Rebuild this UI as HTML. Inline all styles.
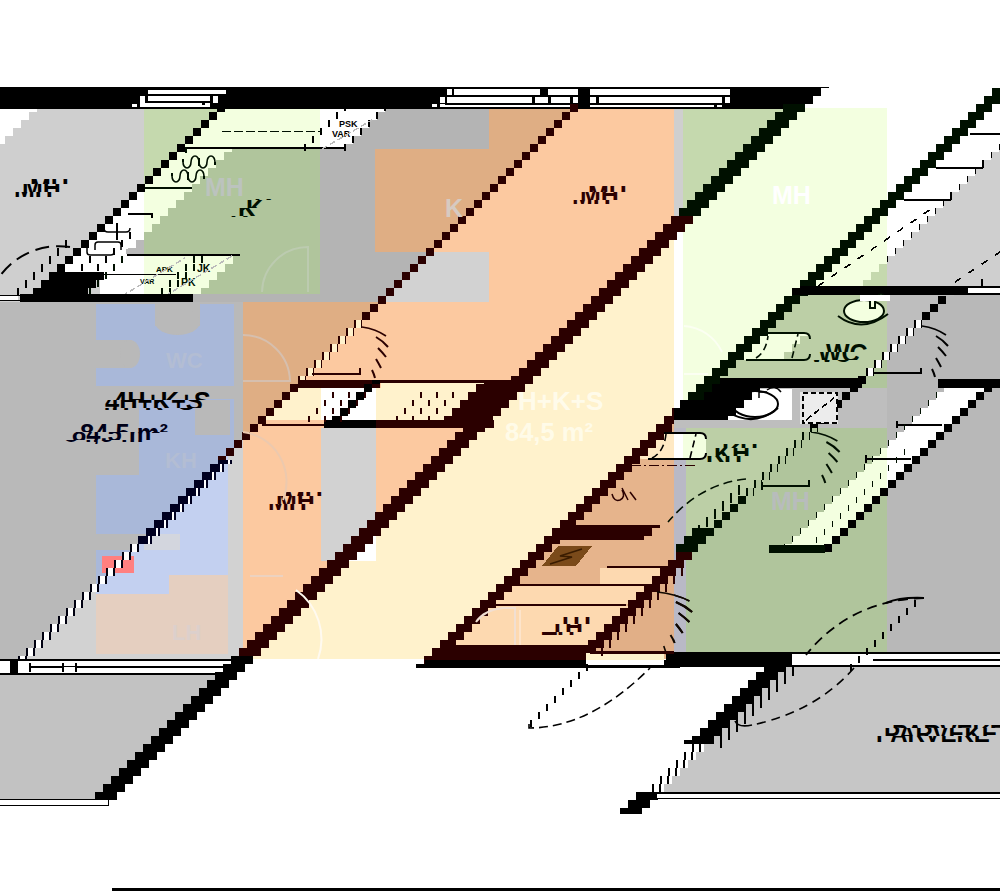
<!DOCTYPE html>
<html><head><meta charset="utf-8"><title>Pohjapiirros 4H+K+S 84,5 m2</title>
<style>
html,body{margin:0;padding:0;background:#fff;}
body{width:1000px;height:891px;overflow:hidden;}
svg{display:block;font-family:"Liberation Sans",sans-serif;}
</style></head><body>
<svg width="1000" height="891" viewBox="0 0 1000 891" shape-rendering="crispEdges">
<rect x="0" y="108" width="144" height="194" fill="#cfcfcf"/>
<rect x="144" y="108" width="176" height="194" fill="#c5d9ae"/>
<rect x="0" y="108" width="37" height="4" fill="#fff"/>
<rect x="0" y="112" width="29" height="8" fill="#fff"/>
<rect x="0" y="120" width="21" height="8" fill="#fff"/>
<rect x="0" y="128" width="13" height="8" fill="#fff"/>
<rect x="0" y="136" width="5" height="8" fill="#fff"/>
<rect x="137" y="192" width="7" height="8" fill="#fff"/>
<rect x="129" y="200" width="15" height="8" fill="#fff"/>
<rect x="121" y="208" width="23" height="8" fill="#fff"/>
<rect x="113" y="216" width="31" height="8" fill="#fff"/>
<rect x="105" y="224" width="39" height="8" fill="#fff"/>
<rect x="97" y="232" width="47" height="8" fill="#fff"/>
<rect x="89" y="240" width="47" height="8" fill="#fff"/>
<rect x="81" y="248" width="47" height="8" fill="#fff"/>
<rect x="73" y="256" width="47" height="8" fill="#fff"/>
<rect x="65" y="264" width="47" height="8" fill="#fff"/>
<rect x="57" y="272" width="47" height="8" fill="#fff"/>
<rect x="49" y="280" width="47" height="8" fill="#fff"/>
<rect x="41" y="288" width="47" height="8" fill="#fff"/>
<rect x="33" y="296" width="47" height="6" fill="#fff"/>
<rect x="225" y="108" width="47" height="4" fill="#f3ffe0"/>
<rect x="217" y="112" width="47" height="8" fill="#f3ffe0"/>
<rect x="209" y="120" width="47" height="8" fill="#f3ffe0"/>
<rect x="201" y="128" width="47" height="8" fill="#f3ffe0"/>
<rect x="193" y="136" width="47" height="8" fill="#f3ffe0"/>
<rect x="185" y="144" width="47" height="8" fill="#f3ffe0"/>
<rect x="177" y="152" width="47" height="8" fill="#f3ffe0"/>
<rect x="169" y="160" width="47" height="8" fill="#f3ffe0"/>
<rect x="161" y="168" width="47" height="8" fill="#f3ffe0"/>
<rect x="153" y="176" width="47" height="8" fill="#f3ffe0"/>
<rect x="145" y="184" width="47" height="8" fill="#f3ffe0"/>
<rect x="144" y="192" width="40" height="8" fill="#f3ffe0"/>
<rect x="144" y="200" width="32" height="8" fill="#f3ffe0"/>
<rect x="144" y="208" width="24" height="8" fill="#f3ffe0"/>
<rect x="144" y="216" width="16" height="8" fill="#f3ffe0"/>
<rect x="144" y="224" width="8" height="8" fill="#f3ffe0"/>
<rect x="136" y="240" width="8" height="8" fill="#b9b9b9"/>
<rect x="128" y="248" width="16" height="8" fill="#b9b9b9"/>
<rect x="272" y="108" width="48" height="4" fill="#b0c59c"/>
<rect x="264" y="112" width="56" height="8" fill="#b0c59c"/>
<rect x="256" y="120" width="64" height="8" fill="#b0c59c"/>
<rect x="248" y="128" width="72" height="8" fill="#b0c59c"/>
<rect x="240" y="136" width="80" height="8" fill="#b0c59c"/>
<rect x="232" y="144" width="88" height="8" fill="#b0c59c"/>
<rect x="224" y="152" width="96" height="8" fill="#b0c59c"/>
<rect x="216" y="160" width="104" height="8" fill="#b0c59c"/>
<rect x="208" y="168" width="112" height="8" fill="#b0c59c"/>
<rect x="200" y="176" width="120" height="8" fill="#b0c59c"/>
<rect x="192" y="184" width="128" height="8" fill="#b0c59c"/>
<rect x="184" y="192" width="136" height="8" fill="#b0c59c"/>
<rect x="176" y="200" width="144" height="8" fill="#b0c59c"/>
<rect x="168" y="208" width="152" height="8" fill="#b0c59c"/>
<rect x="160" y="216" width="160" height="8" fill="#b0c59c"/>
<rect x="152" y="224" width="168" height="8" fill="#b0c59c"/>
<rect x="144" y="232" width="176" height="8" fill="#b0c59c"/>
<rect x="144" y="240" width="176" height="8" fill="#b0c59c"/>
<rect x="144" y="248" width="176" height="8" fill="#b0c59c"/>
<rect x="144" y="256" width="176" height="8" fill="#b0c59c"/>
<rect x="144" y="264" width="176" height="8" fill="#b0c59c"/>
<rect x="144" y="272" width="176" height="8" fill="#b0c59c"/>
<rect x="144" y="280" width="176" height="8" fill="#b0c59c"/>
<rect x="144" y="288" width="176" height="8" fill="#b0c59c"/>
<rect x="144" y="296" width="176" height="6" fill="#b0c59c"/>
<rect x="225" y="108" width="95" height="4" fill="#f3ffe0"/>
<rect x="217" y="112" width="103" height="8" fill="#f3ffe0"/>
<rect x="209" y="120" width="111" height="8" fill="#f3ffe0"/>
<rect x="201" y="128" width="119" height="8" fill="#f3ffe0"/>
<rect x="193" y="136" width="127" height="8" fill="#f3ffe0"/>
<rect x="185" y="144" width="135" height="5" fill="#f3ffe0"/>
<rect x="144" y="256" width="89" height="8" fill="#f3ffe0"/>
<rect x="144" y="264" width="81" height="8" fill="#f3ffe0"/>
<rect x="144" y="272" width="73" height="8" fill="#f3ffe0"/>
<rect x="144" y="280" width="65" height="8" fill="#f3ffe0"/>
<rect x="144" y="288" width="57" height="6" fill="#f3ffe0"/>
<rect x="100" y="256" width="44" height="8" fill="#fff"/>
<rect x="100" y="264" width="44" height="8" fill="#fff"/>
<rect x="100" y="272" width="44" height="8" fill="#fff"/>
<rect x="100" y="280" width="44" height="8" fill="#fff"/>
<rect x="100" y="288" width="44" height="6" fill="#fff"/>
<rect x="320" y="108" width="169" height="41" fill="#b4b4b4"/>
<rect x="320" y="149" width="55" height="153" fill="#b4b4b4"/>
<rect x="375" y="252" width="114" height="50" fill="#b4b4b4"/>
<rect x="320" y="108" width="65" height="4" fill="#fff"/>
<rect x="320" y="112" width="57" height="8" fill="#fff"/>
<rect x="320" y="120" width="49" height="8" fill="#fff"/>
<rect x="320" y="128" width="41" height="8" fill="#fff"/>
<rect x="320" y="136" width="33" height="8" fill="#fff"/>
<rect x="320" y="144" width="25" height="5" fill="#fff"/>
<rect x="375" y="149" width="114" height="103" fill="#dfae84"/>
<rect x="489" y="108" width="185" height="194" fill="#dfae84"/>
<rect x="243" y="302" width="431" height="357" fill="#dfae84"/>
<rect x="578" y="108" width="96" height="4" fill="#fcc9a0"/>
<rect x="570" y="112" width="104" height="8" fill="#fcc9a0"/>
<rect x="562" y="120" width="112" height="8" fill="#fcc9a0"/>
<rect x="554" y="128" width="120" height="8" fill="#fcc9a0"/>
<rect x="546" y="136" width="128" height="8" fill="#fcc9a0"/>
<rect x="538" y="144" width="136" height="8" fill="#fcc9a0"/>
<rect x="530" y="152" width="144" height="8" fill="#fcc9a0"/>
<rect x="522" y="160" width="152" height="8" fill="#fcc9a0"/>
<rect x="514" y="168" width="160" height="8" fill="#fcc9a0"/>
<rect x="506" y="176" width="168" height="8" fill="#fcc9a0"/>
<rect x="498" y="184" width="176" height="8" fill="#fcc9a0"/>
<rect x="490" y="192" width="184" height="8" fill="#fcc9a0"/>
<rect x="489" y="200" width="185" height="8" fill="#fcc9a0"/>
<rect x="489" y="208" width="185" height="8" fill="#fcc9a0"/>
<rect x="489" y="216" width="185" height="8" fill="#fcc9a0"/>
<rect x="489" y="224" width="185" height="8" fill="#fcc9a0"/>
<rect x="489" y="232" width="185" height="8" fill="#fcc9a0"/>
<rect x="489" y="240" width="185" height="8" fill="#fcc9a0"/>
<rect x="489" y="248" width="185" height="8" fill="#fcc9a0"/>
<rect x="489" y="256" width="185" height="8" fill="#fcc9a0"/>
<rect x="489" y="264" width="185" height="8" fill="#fcc9a0"/>
<rect x="489" y="272" width="185" height="8" fill="#fcc9a0"/>
<rect x="489" y="280" width="185" height="8" fill="#fcc9a0"/>
<rect x="489" y="288" width="185" height="8" fill="#fcc9a0"/>
<rect x="489" y="296" width="185" height="6" fill="#fcc9a0"/>
<rect x="386" y="302" width="288" height="2" fill="#fcc9a0"/>
<rect x="378" y="304" width="296" height="8" fill="#fcc9a0"/>
<rect x="370" y="312" width="304" height="8" fill="#fcc9a0"/>
<rect x="362" y="320" width="312" height="8" fill="#fcc9a0"/>
<rect x="354" y="328" width="320" height="8" fill="#fcc9a0"/>
<rect x="346" y="336" width="328" height="8" fill="#fcc9a0"/>
<rect x="338" y="344" width="336" height="8" fill="#fcc9a0"/>
<rect x="330" y="352" width="344" height="8" fill="#fcc9a0"/>
<rect x="322" y="360" width="352" height="8" fill="#fcc9a0"/>
<rect x="314" y="368" width="360" height="8" fill="#fcc9a0"/>
<rect x="306" y="376" width="368" height="8" fill="#fcc9a0"/>
<rect x="298" y="384" width="376" height="8" fill="#fcc9a0"/>
<rect x="290" y="392" width="384" height="8" fill="#fcc9a0"/>
<rect x="282" y="400" width="392" height="8" fill="#fcc9a0"/>
<rect x="274" y="408" width="400" height="8" fill="#fcc9a0"/>
<rect x="266" y="416" width="408" height="8" fill="#fcc9a0"/>
<rect x="258" y="424" width="416" height="8" fill="#fcc9a0"/>
<rect x="250" y="432" width="424" height="8" fill="#fcc9a0"/>
<rect x="243" y="440" width="431" height="8" fill="#fcc9a0"/>
<rect x="243" y="448" width="431" height="8" fill="#fcc9a0"/>
<rect x="243" y="456" width="431" height="8" fill="#fcc9a0"/>
<rect x="243" y="464" width="431" height="8" fill="#fcc9a0"/>
<rect x="243" y="472" width="431" height="8" fill="#fcc9a0"/>
<rect x="243" y="480" width="431" height="8" fill="#fcc9a0"/>
<rect x="243" y="488" width="431" height="8" fill="#fcc9a0"/>
<rect x="243" y="496" width="431" height="8" fill="#fcc9a0"/>
<rect x="243" y="504" width="431" height="8" fill="#fcc9a0"/>
<rect x="243" y="512" width="431" height="8" fill="#fcc9a0"/>
<rect x="243" y="520" width="431" height="8" fill="#fcc9a0"/>
<rect x="243" y="528" width="431" height="8" fill="#fcc9a0"/>
<rect x="243" y="536" width="431" height="8" fill="#fcc9a0"/>
<rect x="243" y="544" width="431" height="8" fill="#fcc9a0"/>
<rect x="243" y="552" width="431" height="8" fill="#fcc9a0"/>
<rect x="243" y="560" width="431" height="8" fill="#fcc9a0"/>
<rect x="243" y="568" width="431" height="8" fill="#fcc9a0"/>
<rect x="243" y="576" width="431" height="8" fill="#fcc9a0"/>
<rect x="243" y="584" width="431" height="8" fill="#fcc9a0"/>
<rect x="243" y="592" width="431" height="8" fill="#fcc9a0"/>
<rect x="243" y="600" width="431" height="8" fill="#fcc9a0"/>
<rect x="243" y="608" width="431" height="8" fill="#fcc9a0"/>
<rect x="243" y="616" width="431" height="8" fill="#fcc9a0"/>
<rect x="243" y="624" width="431" height="8" fill="#fcc9a0"/>
<rect x="243" y="632" width="431" height="8" fill="#fcc9a0"/>
<rect x="243" y="640" width="431" height="8" fill="#fcc9a0"/>
<rect x="243" y="648" width="431" height="8" fill="#fcc9a0"/>
<rect x="243" y="656" width="431" height="3" fill="#fcc9a0"/>
<rect x="434" y="252" width="55" height="4" fill="#d2d2d2"/>
<rect x="426" y="256" width="63" height="8" fill="#d2d2d2"/>
<rect x="418" y="264" width="71" height="8" fill="#d2d2d2"/>
<rect x="410" y="272" width="79" height="8" fill="#d2d2d2"/>
<rect x="402" y="280" width="87" height="8" fill="#d2d2d2"/>
<rect x="394" y="288" width="95" height="8" fill="#d2d2d2"/>
<rect x="386" y="296" width="103" height="6" fill="#d2d2d2"/>
<rect x="482" y="200" width="7" height="8" fill="#fcc9a0"/>
<rect x="474" y="208" width="15" height="8" fill="#fcc9a0"/>
<rect x="466" y="216" width="23" height="8" fill="#fcc9a0"/>
<rect x="458" y="224" width="31" height="8" fill="#fcc9a0"/>
<rect x="450" y="232" width="39" height="8" fill="#fcc9a0"/>
<rect x="442" y="240" width="47" height="8" fill="#fcc9a0"/>
<rect x="434" y="248" width="55" height="4" fill="#fcc9a0"/>
<rect x="671" y="216" width="3" height="8" fill="#fff2cc"/>
<rect x="663" y="224" width="11" height="8" fill="#fff2cc"/>
<rect x="655" y="232" width="19" height="8" fill="#fff2cc"/>
<rect x="647" y="240" width="27" height="8" fill="#fff2cc"/>
<rect x="639" y="248" width="35" height="8" fill="#fff2cc"/>
<rect x="631" y="256" width="43" height="8" fill="#fff2cc"/>
<rect x="623" y="264" width="51" height="8" fill="#fff2cc"/>
<rect x="615" y="272" width="59" height="8" fill="#fff2cc"/>
<rect x="607" y="280" width="67" height="8" fill="#fff2cc"/>
<rect x="599" y="288" width="75" height="8" fill="#fff2cc"/>
<rect x="591" y="296" width="83" height="8" fill="#fff2cc"/>
<rect x="583" y="304" width="91" height="8" fill="#fff2cc"/>
<rect x="575" y="312" width="99" height="8" fill="#fff2cc"/>
<rect x="567" y="320" width="107" height="8" fill="#fff2cc"/>
<rect x="559" y="328" width="115" height="8" fill="#fff2cc"/>
<rect x="551" y="336" width="123" height="8" fill="#fff2cc"/>
<rect x="543" y="344" width="131" height="8" fill="#fff2cc"/>
<rect x="535" y="352" width="139" height="8" fill="#fff2cc"/>
<rect x="527" y="360" width="147" height="8" fill="#fff2cc"/>
<rect x="519" y="368" width="155" height="8" fill="#fff2cc"/>
<rect x="511" y="376" width="163" height="8" fill="#fff2cc"/>
<rect x="503" y="384" width="171" height="8" fill="#fff2cc"/>
<rect x="495" y="392" width="179" height="8" fill="#fff2cc"/>
<rect x="487" y="400" width="187" height="8" fill="#fff2cc"/>
<rect x="479" y="408" width="195" height="8" fill="#fff2cc"/>
<rect x="471" y="416" width="203" height="8" fill="#fff2cc"/>
<rect x="463" y="424" width="211" height="8" fill="#fff2cc"/>
<rect x="455" y="432" width="219" height="8" fill="#fff2cc"/>
<rect x="447" y="440" width="227" height="8" fill="#fff2cc"/>
<rect x="439" y="448" width="235" height="8" fill="#fff2cc"/>
<rect x="431" y="456" width="243" height="8" fill="#fff2cc"/>
<rect x="423" y="464" width="251" height="8" fill="#fff2cc"/>
<rect x="415" y="472" width="259" height="8" fill="#fff2cc"/>
<rect x="407" y="480" width="267" height="8" fill="#fff2cc"/>
<rect x="399" y="488" width="275" height="8" fill="#fff2cc"/>
<rect x="391" y="496" width="283" height="8" fill="#fff2cc"/>
<rect x="383" y="504" width="291" height="8" fill="#fff2cc"/>
<rect x="375" y="512" width="299" height="8" fill="#fff2cc"/>
<rect x="367" y="520" width="307" height="8" fill="#fff2cc"/>
<rect x="359" y="528" width="315" height="8" fill="#fff2cc"/>
<rect x="351" y="536" width="323" height="8" fill="#fff2cc"/>
<rect x="343" y="544" width="331" height="8" fill="#fff2cc"/>
<rect x="335" y="552" width="339" height="8" fill="#fff2cc"/>
<rect x="327" y="560" width="347" height="8" fill="#fff2cc"/>
<rect x="319" y="568" width="355" height="8" fill="#fff2cc"/>
<rect x="311" y="576" width="363" height="8" fill="#fff2cc"/>
<rect x="303" y="584" width="371" height="8" fill="#fff2cc"/>
<rect x="295" y="592" width="379" height="8" fill="#fff2cc"/>
<rect x="287" y="600" width="387" height="8" fill="#fff2cc"/>
<rect x="279" y="608" width="395" height="8" fill="#fff2cc"/>
<rect x="271" y="616" width="403" height="8" fill="#fff2cc"/>
<rect x="263" y="624" width="411" height="8" fill="#fff2cc"/>
<rect x="255" y="632" width="419" height="8" fill="#fff2cc"/>
<rect x="247" y="640" width="427" height="8" fill="#fff2cc"/>
<rect x="243" y="648" width="431" height="8" fill="#fff2cc"/>
<rect x="243" y="656" width="431" height="3" fill="#fff2cc"/>
<rect x="672" y="408" width="2" height="8" fill="#e6b48c"/>
<rect x="664" y="416" width="10" height="8" fill="#e6b48c"/>
<rect x="656" y="424" width="18" height="8" fill="#e6b48c"/>
<rect x="648" y="432" width="26" height="8" fill="#e6b48c"/>
<rect x="640" y="440" width="34" height="8" fill="#e6b48c"/>
<rect x="632" y="448" width="42" height="8" fill="#e6b48c"/>
<rect x="624" y="456" width="50" height="8" fill="#e6b48c"/>
<rect x="616" y="464" width="58" height="8" fill="#e6b48c"/>
<rect x="608" y="472" width="66" height="8" fill="#e6b48c"/>
<rect x="600" y="480" width="74" height="8" fill="#e6b48c"/>
<rect x="592" y="488" width="82" height="8" fill="#e6b48c"/>
<rect x="584" y="496" width="90" height="8" fill="#e6b48c"/>
<rect x="576" y="504" width="98" height="8" fill="#e6b48c"/>
<rect x="568" y="512" width="106" height="8" fill="#e6b48c"/>
<rect x="560" y="520" width="114" height="8" fill="#e6b48c"/>
<rect x="552" y="528" width="122" height="8" fill="#e6b48c"/>
<rect x="544" y="536" width="130" height="8" fill="#e6b48c"/>
<rect x="536" y="544" width="138" height="8" fill="#e6b48c"/>
<rect x="528" y="552" width="146" height="8" fill="#e6b48c"/>
<rect x="520" y="560" width="154" height="8" fill="#e6b48c"/>
<rect x="512" y="568" width="162" height="8" fill="#e6b48c"/>
<rect x="504" y="576" width="170" height="8" fill="#e6b48c"/>
<rect x="496" y="584" width="178" height="8" fill="#e6b48c"/>
<rect x="488" y="592" width="186" height="8" fill="#e6b48c"/>
<rect x="480" y="600" width="194" height="8" fill="#e6b48c"/>
<rect x="472" y="608" width="202" height="8" fill="#e6b48c"/>
<rect x="464" y="616" width="210" height="8" fill="#e6b48c"/>
<rect x="456" y="624" width="218" height="8" fill="#e6b48c"/>
<rect x="448" y="632" width="226" height="8" fill="#e6b48c"/>
<rect x="440" y="640" width="234" height="8" fill="#e6b48c"/>
<rect x="432" y="648" width="242" height="8" fill="#e6b48c"/>
<rect x="424" y="656" width="250" height="3" fill="#e6b48c"/>
<rect x="674" y="108" width="9" height="552" fill="#cfcfcf"/>
<rect x="679" y="208" width="4" height="8" fill="#fff"/>
<rect x="674" y="216" width="9" height="8" fill="#fff"/>
<rect x="674" y="224" width="9" height="8" fill="#fff"/>
<rect x="674" y="232" width="9" height="8" fill="#fff"/>
<rect x="674" y="240" width="9" height="8" fill="#fff"/>
<rect x="674" y="248" width="9" height="8" fill="#fff"/>
<rect x="674" y="256" width="9" height="8" fill="#fff"/>
<rect x="674" y="264" width="9" height="8" fill="#fff"/>
<rect x="674" y="272" width="9" height="8" fill="#fff"/>
<rect x="674" y="280" width="9" height="8" fill="#fff"/>
<rect x="674" y="288" width="9" height="8" fill="#fff"/>
<rect x="674" y="296" width="9" height="8" fill="#fff"/>
<rect x="674" y="304" width="9" height="8" fill="#fff"/>
<rect x="674" y="312" width="9" height="8" fill="#fff"/>
<rect x="674" y="320" width="9" height="8" fill="#fff"/>
<rect x="674" y="328" width="9" height="8" fill="#fff"/>
<rect x="674" y="336" width="9" height="8" fill="#fff"/>
<rect x="674" y="344" width="9" height="8" fill="#fff"/>
<rect x="674" y="352" width="9" height="8" fill="#fff"/>
<rect x="674" y="360" width="9" height="8" fill="#fff"/>
<rect x="674" y="368" width="9" height="8" fill="#fff"/>
<rect x="674" y="376" width="9" height="8" fill="#fff"/>
<rect x="674" y="384" width="9" height="8" fill="#fff"/>
<rect x="674" y="392" width="9" height="8" fill="#fff"/>
<rect x="674" y="400" width="9" height="8" fill="#fff"/>
<rect x="674" y="408" width="9" height="8" fill="#fff"/>
<rect x="674" y="416" width="9" height="8" fill="#fff"/>
<rect x="674" y="424" width="9" height="8" fill="#fff"/>
<rect x="674" y="432" width="9" height="8" fill="#fff"/>
<rect x="674" y="440" width="9" height="8" fill="#fff"/>
<rect x="674" y="448" width="9" height="8" fill="#fff"/>
<rect x="674" y="456" width="9" height="8" fill="#fff"/>
<rect x="674" y="464" width="9" height="8" fill="#fff"/>
<rect x="674" y="472" width="9" height="8" fill="#fff"/>
<rect x="674" y="480" width="9" height="8" fill="#fff"/>
<rect x="674" y="488" width="9" height="8" fill="#fff"/>
<rect x="674" y="496" width="9" height="8" fill="#fff"/>
<rect x="674" y="504" width="9" height="8" fill="#fff"/>
<rect x="674" y="512" width="9" height="8" fill="#fff"/>
<rect x="674" y="520" width="9" height="8" fill="#fff"/>
<rect x="674" y="528" width="9" height="8" fill="#fff"/>
<rect x="674" y="536" width="9" height="8" fill="#fff"/>
<rect x="674" y="544" width="9" height="8" fill="#fff"/>
<rect x="674" y="552" width="9" height="8" fill="#fff"/>
<rect x="674" y="560" width="9" height="8" fill="#fff"/>
<rect x="674" y="568" width="9" height="8" fill="#fff"/>
<rect x="674" y="576" width="9" height="8" fill="#fff"/>
<rect x="674" y="584" width="9" height="8" fill="#fff"/>
<rect x="674" y="592" width="9" height="8" fill="#fff"/>
<rect x="674" y="600" width="9" height="8" fill="#fff"/>
<rect x="674" y="608" width="9" height="8" fill="#fff"/>
<rect x="674" y="616" width="9" height="8" fill="#fff"/>
<rect x="674" y="624" width="9" height="8" fill="#fff"/>
<rect x="674" y="632" width="9" height="8" fill="#fff"/>
<rect x="674" y="640" width="9" height="8" fill="#fff"/>
<rect x="674" y="648" width="9" height="8" fill="#fff"/>
<rect x="674" y="656" width="9" height="4" fill="#fff"/>
<rect x="683" y="108" width="204" height="552" fill="#c5d9ae"/>
<rect x="783" y="108" width="104" height="4" fill="#f3ffe0"/>
<rect x="775" y="112" width="112" height="8" fill="#f3ffe0"/>
<rect x="767" y="120" width="120" height="8" fill="#f3ffe0"/>
<rect x="759" y="128" width="128" height="8" fill="#f3ffe0"/>
<rect x="751" y="136" width="136" height="8" fill="#f3ffe0"/>
<rect x="743" y="144" width="144" height="8" fill="#f3ffe0"/>
<rect x="735" y="152" width="152" height="8" fill="#f3ffe0"/>
<rect x="727" y="160" width="160" height="8" fill="#f3ffe0"/>
<rect x="719" y="168" width="168" height="8" fill="#f3ffe0"/>
<rect x="711" y="176" width="176" height="8" fill="#f3ffe0"/>
<rect x="703" y="184" width="184" height="8" fill="#f3ffe0"/>
<rect x="695" y="192" width="192" height="8" fill="#f3ffe0"/>
<rect x="687" y="200" width="200" height="8" fill="#f3ffe0"/>
<rect x="683" y="208" width="204" height="8" fill="#f3ffe0"/>
<rect x="683" y="216" width="204" height="8" fill="#f3ffe0"/>
<rect x="683" y="224" width="204" height="8" fill="#f3ffe0"/>
<rect x="683" y="232" width="204" height="8" fill="#f3ffe0"/>
<rect x="683" y="240" width="204" height="8" fill="#f3ffe0"/>
<rect x="683" y="248" width="204" height="8" fill="#f3ffe0"/>
<rect x="683" y="256" width="204" height="8" fill="#f3ffe0"/>
<rect x="683" y="264" width="204" height="8" fill="#f3ffe0"/>
<rect x="683" y="272" width="204" height="8" fill="#f3ffe0"/>
<rect x="683" y="280" width="204" height="8" fill="#f3ffe0"/>
<rect x="683" y="288" width="204" height="8" fill="#f3ffe0"/>
<rect x="683" y="296" width="204" height="8" fill="#f3ffe0"/>
<rect x="683" y="304" width="204" height="8" fill="#f3ffe0"/>
<rect x="683" y="312" width="204" height="8" fill="#f3ffe0"/>
<rect x="683" y="320" width="204" height="8" fill="#f3ffe0"/>
<rect x="683" y="328" width="204" height="8" fill="#f3ffe0"/>
<rect x="683" y="336" width="204" height="8" fill="#f3ffe0"/>
<rect x="683" y="344" width="204" height="8" fill="#f3ffe0"/>
<rect x="683" y="352" width="204" height="8" fill="#f3ffe0"/>
<rect x="683" y="360" width="204" height="8" fill="#f3ffe0"/>
<rect x="683" y="368" width="204" height="8" fill="#f3ffe0"/>
<rect x="683" y="376" width="204" height="8" fill="#f3ffe0"/>
<rect x="683" y="384" width="204" height="8" fill="#f3ffe0"/>
<rect x="683" y="392" width="204" height="8" fill="#f3ffe0"/>
<rect x="683" y="400" width="204" height="8" fill="#f3ffe0"/>
<rect x="683" y="408" width="204" height="8" fill="#f3ffe0"/>
<rect x="683" y="416" width="204" height="8" fill="#f3ffe0"/>
<rect x="683" y="424" width="204" height="8" fill="#f3ffe0"/>
<rect x="683" y="432" width="204" height="8" fill="#f3ffe0"/>
<rect x="683" y="440" width="204" height="8" fill="#f3ffe0"/>
<rect x="683" y="448" width="204" height="8" fill="#f3ffe0"/>
<rect x="683" y="456" width="204" height="8" fill="#f3ffe0"/>
<rect x="683" y="464" width="204" height="8" fill="#f3ffe0"/>
<rect x="683" y="472" width="204" height="8" fill="#f3ffe0"/>
<rect x="683" y="480" width="204" height="8" fill="#f3ffe0"/>
<rect x="683" y="488" width="204" height="8" fill="#f3ffe0"/>
<rect x="683" y="496" width="204" height="8" fill="#f3ffe0"/>
<rect x="683" y="504" width="204" height="8" fill="#f3ffe0"/>
<rect x="683" y="512" width="204" height="8" fill="#f3ffe0"/>
<rect x="683" y="520" width="204" height="8" fill="#f3ffe0"/>
<rect x="683" y="528" width="204" height="8" fill="#f3ffe0"/>
<rect x="683" y="536" width="204" height="8" fill="#f3ffe0"/>
<rect x="683" y="544" width="204" height="8" fill="#f3ffe0"/>
<rect x="683" y="552" width="204" height="8" fill="#f3ffe0"/>
<rect x="683" y="560" width="204" height="8" fill="#f3ffe0"/>
<rect x="683" y="568" width="204" height="8" fill="#f3ffe0"/>
<rect x="683" y="576" width="204" height="8" fill="#f3ffe0"/>
<rect x="683" y="584" width="204" height="8" fill="#f3ffe0"/>
<rect x="683" y="592" width="204" height="8" fill="#f3ffe0"/>
<rect x="683" y="600" width="204" height="8" fill="#f3ffe0"/>
<rect x="683" y="608" width="204" height="8" fill="#f3ffe0"/>
<rect x="683" y="616" width="204" height="8" fill="#f3ffe0"/>
<rect x="683" y="624" width="204" height="8" fill="#f3ffe0"/>
<rect x="683" y="632" width="204" height="8" fill="#f3ffe0"/>
<rect x="683" y="640" width="204" height="8" fill="#f3ffe0"/>
<rect x="683" y="648" width="204" height="8" fill="#f3ffe0"/>
<rect x="683" y="656" width="204" height="4" fill="#f3ffe0"/>
<rect x="808" y="295" width="79" height="1" fill="#b0c59c"/>
<rect x="800" y="296" width="87" height="8" fill="#b0c59c"/>
<rect x="792" y="304" width="95" height="8" fill="#b0c59c"/>
<rect x="784" y="312" width="103" height="8" fill="#b0c59c"/>
<rect x="776" y="320" width="111" height="8" fill="#b0c59c"/>
<rect x="768" y="328" width="119" height="8" fill="#b0c59c"/>
<rect x="760" y="336" width="127" height="8" fill="#b0c59c"/>
<rect x="752" y="344" width="135" height="8" fill="#b0c59c"/>
<rect x="744" y="352" width="143" height="8" fill="#b0c59c"/>
<rect x="736" y="360" width="151" height="8" fill="#b0c59c"/>
<rect x="728" y="368" width="159" height="8" fill="#b0c59c"/>
<rect x="720" y="376" width="167" height="8" fill="#b0c59c"/>
<rect x="712" y="384" width="175" height="8" fill="#b0c59c"/>
<rect x="704" y="392" width="183" height="8" fill="#b0c59c"/>
<rect x="696" y="400" width="191" height="8" fill="#b0c59c"/>
<rect x="688" y="408" width="199" height="8" fill="#b0c59c"/>
<rect x="686" y="416" width="201" height="8" fill="#b0c59c"/>
<rect x="686" y="424" width="201" height="8" fill="#b0c59c"/>
<rect x="686" y="432" width="201" height="8" fill="#b0c59c"/>
<rect x="686" y="440" width="201" height="8" fill="#b0c59c"/>
<rect x="686" y="448" width="201" height="8" fill="#b0c59c"/>
<rect x="686" y="456" width="201" height="8" fill="#b0c59c"/>
<rect x="686" y="464" width="201" height="8" fill="#b0c59c"/>
<rect x="686" y="472" width="201" height="8" fill="#b0c59c"/>
<rect x="686" y="480" width="201" height="8" fill="#b0c59c"/>
<rect x="686" y="488" width="201" height="8" fill="#b0c59c"/>
<rect x="686" y="496" width="201" height="8" fill="#b0c59c"/>
<rect x="686" y="504" width="201" height="8" fill="#b0c59c"/>
<rect x="686" y="512" width="201" height="8" fill="#b0c59c"/>
<rect x="686" y="520" width="201" height="8" fill="#b0c59c"/>
<rect x="686" y="528" width="201" height="8" fill="#b0c59c"/>
<rect x="686" y="536" width="201" height="8" fill="#b0c59c"/>
<rect x="686" y="544" width="201" height="8" fill="#b0c59c"/>
<rect x="686" y="552" width="201" height="8" fill="#b0c59c"/>
<rect x="686" y="560" width="201" height="8" fill="#b0c59c"/>
<rect x="686" y="568" width="201" height="8" fill="#b0c59c"/>
<rect x="686" y="576" width="201" height="8" fill="#b0c59c"/>
<rect x="686" y="584" width="201" height="8" fill="#b0c59c"/>
<rect x="686" y="592" width="201" height="8" fill="#b0c59c"/>
<rect x="686" y="600" width="201" height="8" fill="#b0c59c"/>
<rect x="686" y="608" width="201" height="8" fill="#b0c59c"/>
<rect x="686" y="616" width="201" height="8" fill="#b0c59c"/>
<rect x="686" y="624" width="201" height="8" fill="#b0c59c"/>
<rect x="686" y="632" width="201" height="8" fill="#b0c59c"/>
<rect x="686" y="640" width="201" height="8" fill="#b0c59c"/>
<rect x="686" y="648" width="201" height="8" fill="#b0c59c"/>
<rect x="686" y="656" width="201" height="4" fill="#b0c59c"/>
<rect x="808" y="295" width="79" height="1" fill="#bccfa6"/>
<rect x="800" y="296" width="87" height="8" fill="#bccfa6"/>
<rect x="792" y="304" width="95" height="8" fill="#bccfa6"/>
<rect x="784" y="312" width="103" height="8" fill="#bccfa6"/>
<rect x="776" y="320" width="111" height="8" fill="#bccfa6"/>
<rect x="768" y="328" width="119" height="8" fill="#bccfa6"/>
<rect x="760" y="336" width="127" height="8" fill="#bccfa6"/>
<rect x="752" y="344" width="135" height="8" fill="#bccfa6"/>
<rect x="744" y="352" width="138" height="8" fill="#bccfa6"/>
<rect x="736" y="360" width="138" height="8" fill="#bccfa6"/>
<rect x="728" y="368" width="138" height="8" fill="#bccfa6"/>
<rect x="720" y="376" width="138" height="8" fill="#bccfa6"/>
<rect x="712" y="384" width="138" height="8" fill="#bccfa6"/>
<rect x="704" y="392" width="138" height="8" fill="#bccfa6"/>
<rect x="696" y="400" width="138" height="8" fill="#bccfa6"/>
<rect x="688" y="408" width="138" height="8" fill="#bccfa6"/>
<rect x="686" y="416" width="132" height="8" fill="#bccfa6"/>
<rect x="686" y="424" width="124" height="8" fill="#bccfa6"/>
<rect x="686" y="432" width="116" height="8" fill="#bccfa6"/>
<rect x="686" y="440" width="108" height="8" fill="#bccfa6"/>
<rect x="686" y="448" width="100" height="8" fill="#bccfa6"/>
<rect x="686" y="456" width="92" height="8" fill="#bccfa6"/>
<rect x="686" y="464" width="84" height="8" fill="#bccfa6"/>
<rect x="686" y="472" width="76" height="8" fill="#bccfa6"/>
<rect x="686" y="480" width="68" height="8" fill="#bccfa6"/>
<rect x="686" y="488" width="60" height="8" fill="#bccfa6"/>
<rect x="686" y="496" width="52" height="8" fill="#bccfa6"/>
<rect x="686" y="504" width="44" height="8" fill="#bccfa6"/>
<rect x="686" y="512" width="36" height="8" fill="#bccfa6"/>
<rect x="686" y="520" width="28" height="8" fill="#bccfa6"/>
<rect x="686" y="528" width="20" height="8" fill="#bccfa6"/>
<rect x="686" y="536" width="12" height="8" fill="#bccfa6"/>
<rect x="686" y="544" width="4" height="8" fill="#bccfa6"/>
<rect x="879" y="264" width="8" height="8" fill="#c5d9ae"/>
<rect x="871" y="272" width="16" height="8" fill="#c5d9ae"/>
<rect x="863" y="280" width="24" height="6" fill="#c5d9ae"/>
<rect x="680" y="400" width="6" height="8" fill="#b9b9c6"/>
<rect x="674" y="408" width="12" height="8" fill="#b9b9c6"/>
<rect x="674" y="416" width="12" height="8" fill="#b9b9c6"/>
<rect x="674" y="424" width="12" height="8" fill="#b9b9c6"/>
<rect x="674" y="432" width="12" height="8" fill="#b9b9c6"/>
<rect x="674" y="440" width="12" height="8" fill="#b9b9c6"/>
<rect x="674" y="448" width="12" height="8" fill="#b9b9c6"/>
<rect x="674" y="456" width="12" height="8" fill="#b9b9c6"/>
<rect x="674" y="464" width="12" height="8" fill="#b9b9c6"/>
<rect x="674" y="472" width="12" height="8" fill="#b9b9c6"/>
<rect x="674" y="480" width="12" height="8" fill="#b9b9c6"/>
<rect x="674" y="488" width="12" height="8" fill="#b9b9c6"/>
<rect x="674" y="496" width="12" height="8" fill="#b9b9c6"/>
<rect x="674" y="504" width="12" height="8" fill="#b9b9c6"/>
<rect x="674" y="512" width="12" height="8" fill="#b9b9c6"/>
<rect x="674" y="520" width="12" height="8" fill="#b9b9c6"/>
<rect x="674" y="528" width="12" height="8" fill="#b9b9c6"/>
<rect x="674" y="536" width="12" height="8" fill="#b9b9c6"/>
<rect x="674" y="544" width="12" height="8" fill="#b9b9c6"/>
<rect x="674" y="552" width="12" height="8" fill="#b9b9c6"/>
<rect x="674" y="560" width="12" height="8" fill="#b9b9c6"/>
<rect x="674" y="568" width="12" height="8" fill="#b9b9c6"/>
<rect x="674" y="576" width="12" height="8" fill="#b9b9c6"/>
<rect x="674" y="584" width="12" height="8" fill="#b9b9c6"/>
<rect x="674" y="592" width="12" height="8" fill="#b9b9c6"/>
<rect x="674" y="600" width="12" height="8" fill="#b9b9c6"/>
<rect x="674" y="608" width="12" height="8" fill="#b9b9c6"/>
<rect x="674" y="616" width="12" height="8" fill="#b9b9c6"/>
<rect x="674" y="624" width="12" height="8" fill="#b9b9c6"/>
<rect x="674" y="632" width="12" height="8" fill="#b9b9c6"/>
<rect x="674" y="640" width="12" height="8" fill="#b9b9c6"/>
<rect x="674" y="648" width="12" height="8" fill="#b9b9c6"/>
<rect x="674" y="656" width="12" height="4" fill="#b9b9c6"/>
<rect x="999" y="144" width="1" height="8" fill="#cfcfcf"/>
<rect x="991" y="152" width="9" height="8" fill="#cfcfcf"/>
<rect x="983" y="160" width="17" height="8" fill="#cfcfcf"/>
<rect x="975" y="168" width="25" height="8" fill="#cfcfcf"/>
<rect x="967" y="176" width="33" height="8" fill="#cfcfcf"/>
<rect x="959" y="184" width="41" height="8" fill="#cfcfcf"/>
<rect x="951" y="192" width="49" height="8" fill="#cfcfcf"/>
<rect x="943" y="200" width="57" height="8" fill="#cfcfcf"/>
<rect x="935" y="208" width="65" height="8" fill="#cfcfcf"/>
<rect x="927" y="216" width="73" height="8" fill="#cfcfcf"/>
<rect x="919" y="224" width="81" height="8" fill="#cfcfcf"/>
<rect x="911" y="232" width="89" height="8" fill="#cfcfcf"/>
<rect x="903" y="240" width="97" height="8" fill="#cfcfcf"/>
<rect x="895" y="248" width="105" height="8" fill="#cfcfcf"/>
<rect x="887" y="256" width="113" height="8" fill="#cfcfcf"/>
<rect x="887" y="264" width="113" height="8" fill="#cfcfcf"/>
<rect x="887" y="272" width="113" height="8" fill="#cfcfcf"/>
<rect x="887" y="280" width="113" height="6" fill="#cfcfcf"/>
<rect x="887" y="295" width="113" height="365" fill="#bebebe"/>
<rect x="954" y="295" width="46" height="1" fill="#b8b8b8"/>
<rect x="946" y="296" width="54" height="8" fill="#b8b8b8"/>
<rect x="938" y="304" width="62" height="8" fill="#b8b8b8"/>
<rect x="930" y="312" width="70" height="8" fill="#b8b8b8"/>
<rect x="922" y="320" width="78" height="8" fill="#b8b8b8"/>
<rect x="914" y="328" width="86" height="8" fill="#b8b8b8"/>
<rect x="906" y="336" width="94" height="8" fill="#b8b8b8"/>
<rect x="898" y="344" width="102" height="8" fill="#b8b8b8"/>
<rect x="890" y="352" width="110" height="8" fill="#b8b8b8"/>
<rect x="887" y="360" width="113" height="8" fill="#b8b8b8"/>
<rect x="887" y="368" width="113" height="8" fill="#b8b8b8"/>
<rect x="887" y="376" width="113" height="8" fill="#b8b8b8"/>
<rect x="887" y="384" width="113" height="8" fill="#b8b8b8"/>
<rect x="887" y="392" width="113" height="8" fill="#b8b8b8"/>
<rect x="887" y="400" width="113" height="8" fill="#b8b8b8"/>
<rect x="887" y="408" width="113" height="8" fill="#b8b8b8"/>
<rect x="887" y="416" width="113" height="8" fill="#b8b8b8"/>
<rect x="887" y="424" width="113" height="8" fill="#b8b8b8"/>
<rect x="887" y="432" width="113" height="8" fill="#b8b8b8"/>
<rect x="887" y="440" width="113" height="8" fill="#b8b8b8"/>
<rect x="887" y="448" width="113" height="8" fill="#b8b8b8"/>
<rect x="887" y="456" width="113" height="8" fill="#b8b8b8"/>
<rect x="887" y="464" width="113" height="8" fill="#b8b8b8"/>
<rect x="887" y="472" width="113" height="8" fill="#b8b8b8"/>
<rect x="887" y="480" width="113" height="8" fill="#b8b8b8"/>
<rect x="887" y="488" width="113" height="8" fill="#b8b8b8"/>
<rect x="887" y="496" width="113" height="8" fill="#b8b8b8"/>
<rect x="887" y="504" width="113" height="8" fill="#b8b8b8"/>
<rect x="887" y="512" width="113" height="8" fill="#b8b8b8"/>
<rect x="887" y="520" width="113" height="8" fill="#b8b8b8"/>
<rect x="887" y="528" width="113" height="8" fill="#b8b8b8"/>
<rect x="887" y="536" width="113" height="8" fill="#b8b8b8"/>
<rect x="887" y="544" width="113" height="8" fill="#b8b8b8"/>
<rect x="887" y="552" width="113" height="8" fill="#b8b8b8"/>
<rect x="887" y="560" width="113" height="8" fill="#b8b8b8"/>
<rect x="887" y="568" width="113" height="8" fill="#b8b8b8"/>
<rect x="887" y="576" width="113" height="8" fill="#b8b8b8"/>
<rect x="887" y="584" width="113" height="8" fill="#b8b8b8"/>
<rect x="887" y="592" width="113" height="8" fill="#b8b8b8"/>
<rect x="887" y="600" width="113" height="8" fill="#b8b8b8"/>
<rect x="887" y="608" width="113" height="8" fill="#b8b8b8"/>
<rect x="887" y="616" width="113" height="8" fill="#b8b8b8"/>
<rect x="887" y="624" width="113" height="8" fill="#b8b8b8"/>
<rect x="887" y="632" width="113" height="8" fill="#b8b8b8"/>
<rect x="887" y="640" width="113" height="8" fill="#b8b8b8"/>
<rect x="887" y="648" width="113" height="8" fill="#b8b8b8"/>
<rect x="887" y="656" width="113" height="4" fill="#b8b8b8"/>
<rect x="944" y="388" width="40" height="4" fill="#fff"/>
<rect x="936" y="392" width="40" height="8" fill="#fff"/>
<rect x="928" y="400" width="40" height="8" fill="#fff"/>
<rect x="920" y="408" width="40" height="8" fill="#fff"/>
<rect x="912" y="416" width="40" height="8" fill="#fff"/>
<rect x="904" y="424" width="40" height="8" fill="#fff"/>
<rect x="896" y="432" width="40" height="8" fill="#fff"/>
<rect x="888" y="440" width="40" height="8" fill="#fff"/>
<rect x="887" y="448" width="33" height="8" fill="#fff"/>
<rect x="887" y="456" width="25" height="8" fill="#fff"/>
<rect x="887" y="464" width="17" height="8" fill="#fff"/>
<rect x="887" y="472" width="9" height="8" fill="#fff"/>
<rect x="887" y="480" width="1" height="8" fill="#fff"/>
<rect x="880" y="448" width="7" height="8" fill="#f3ffe0"/>
<rect x="872" y="456" width="15" height="8" fill="#f3ffe0"/>
<rect x="864" y="464" width="23" height="8" fill="#f3ffe0"/>
<rect x="856" y="472" width="31" height="8" fill="#f3ffe0"/>
<rect x="848" y="480" width="39" height="8" fill="#f3ffe0"/>
<rect x="840" y="488" width="40" height="8" fill="#f3ffe0"/>
<rect x="832" y="496" width="40" height="8" fill="#f3ffe0"/>
<rect x="824" y="504" width="40" height="8" fill="#f3ffe0"/>
<rect x="816" y="512" width="40" height="8" fill="#f3ffe0"/>
<rect x="808" y="520" width="40" height="8" fill="#f3ffe0"/>
<rect x="800" y="528" width="40" height="8" fill="#f3ffe0"/>
<rect x="792" y="536" width="40" height="8" fill="#f3ffe0"/>
<rect x="784" y="544" width="40" height="1" fill="#f3ffe0"/>
<rect x="0" y="302" width="96" height="357" fill="#b9b9b9"/>
<rect x="96" y="304" width="138" height="355" fill="#a9b8d9"/>
<rect x="96" y="302" width="147" height="2" fill="#b9b9b9"/>
<rect x="234" y="302" width="9" height="357" fill="#b9b9b9"/>
<rect x="90" y="592" width="6" height="8" fill="#d2d2d2"/>
<rect x="82" y="600" width="14" height="8" fill="#d2d2d2"/>
<rect x="74" y="608" width="22" height="8" fill="#d2d2d2"/>
<rect x="66" y="616" width="30" height="8" fill="#d2d2d2"/>
<rect x="58" y="624" width="38" height="8" fill="#d2d2d2"/>
<rect x="50" y="632" width="46" height="8" fill="#d2d2d2"/>
<rect x="42" y="640" width="54" height="8" fill="#d2d2d2"/>
<rect x="34" y="648" width="62" height="8" fill="#d2d2d2"/>
<rect x="26" y="656" width="70" height="3" fill="#d2d2d2"/>
<rect x="226" y="456" width="8" height="8" fill="#c3d0f0"/>
<rect x="218" y="464" width="16" height="8" fill="#c3d0f0"/>
<rect x="210" y="472" width="24" height="8" fill="#c3d0f0"/>
<rect x="202" y="480" width="32" height="8" fill="#c3d0f0"/>
<rect x="194" y="488" width="40" height="8" fill="#c3d0f0"/>
<rect x="186" y="496" width="48" height="8" fill="#c3d0f0"/>
<rect x="178" y="504" width="56" height="8" fill="#c3d0f0"/>
<rect x="170" y="512" width="64" height="8" fill="#c3d0f0"/>
<rect x="162" y="520" width="72" height="8" fill="#c3d0f0"/>
<rect x="154" y="528" width="80" height="8" fill="#c3d0f0"/>
<rect x="146" y="536" width="88" height="8" fill="#c3d0f0"/>
<rect x="138" y="544" width="96" height="8" fill="#c3d0f0"/>
<rect x="130" y="552" width="104" height="8" fill="#c3d0f0"/>
<rect x="122" y="560" width="112" height="8" fill="#c3d0f0"/>
<rect x="114" y="568" width="120" height="8" fill="#c3d0f0"/>
<rect x="106" y="576" width="128" height="8" fill="#c3d0f0"/>
<rect x="98" y="584" width="136" height="8" fill="#c3d0f0"/>
<rect x="96" y="592" width="138" height="8" fill="#c3d0f0"/>
<rect x="96" y="600" width="138" height="8" fill="#c3d0f0"/>
<rect x="96" y="608" width="138" height="8" fill="#c3d0f0"/>
<rect x="96" y="616" width="138" height="8" fill="#c3d0f0"/>
<rect x="96" y="624" width="138" height="8" fill="#c3d0f0"/>
<rect x="96" y="632" width="138" height="8" fill="#c3d0f0"/>
<rect x="96" y="640" width="138" height="8" fill="#c3d0f0"/>
<rect x="96" y="648" width="138" height="8" fill="#c3d0f0"/>
<rect x="96" y="656" width="138" height="3" fill="#c3d0f0"/>
<rect x="242" y="440" width="1" height="8" fill="#d2d2d2"/>
<rect x="234" y="448" width="9" height="8" fill="#d2d2d2"/>
<rect x="228" y="456" width="15" height="8" fill="#d2d2d2"/>
<rect x="228" y="464" width="15" height="8" fill="#d2d2d2"/>
<rect x="228" y="472" width="15" height="8" fill="#d2d2d2"/>
<rect x="228" y="480" width="15" height="8" fill="#d2d2d2"/>
<rect x="228" y="488" width="15" height="8" fill="#d2d2d2"/>
<rect x="228" y="496" width="15" height="8" fill="#d2d2d2"/>
<rect x="228" y="504" width="15" height="8" fill="#d2d2d2"/>
<rect x="228" y="512" width="15" height="8" fill="#d2d2d2"/>
<rect x="228" y="520" width="15" height="8" fill="#d2d2d2"/>
<rect x="228" y="528" width="15" height="8" fill="#d2d2d2"/>
<rect x="228" y="536" width="15" height="8" fill="#d2d2d2"/>
<rect x="228" y="544" width="15" height="8" fill="#d2d2d2"/>
<rect x="228" y="552" width="15" height="8" fill="#d2d2d2"/>
<rect x="228" y="560" width="15" height="8" fill="#d2d2d2"/>
<rect x="228" y="568" width="15" height="8" fill="#d2d2d2"/>
<rect x="228" y="576" width="15" height="8" fill="#d2d2d2"/>
<rect x="228" y="584" width="15" height="8" fill="#d2d2d2"/>
<rect x="228" y="592" width="15" height="8" fill="#d2d2d2"/>
<rect x="228" y="600" width="15" height="8" fill="#d2d2d2"/>
<rect x="228" y="608" width="15" height="8" fill="#d2d2d2"/>
<rect x="228" y="616" width="15" height="8" fill="#d2d2d2"/>
<rect x="228" y="624" width="15" height="8" fill="#d2d2d2"/>
<rect x="228" y="632" width="15" height="8" fill="#d2d2d2"/>
<rect x="228" y="640" width="15" height="8" fill="#d2d2d2"/>
<rect x="228" y="648" width="15" height="8" fill="#d2d2d2"/>
<rect x="228" y="656" width="15" height="3" fill="#d2d2d2"/>
<rect x="155" y="304" width="45" height="22" fill="#b9b9b9"/>
<ellipse cx="177.5" cy="322" rx="22.5" ry="13" fill="#b9b9b9" shape-rendering="auto"/>
<rect x="96" y="340" width="36" height="28" fill="#b9b9b9"/>
<ellipse cx="130" cy="354" rx="10" ry="14" fill="#b9b9b9" shape-rendering="auto"/>
<rect x="96" y="386" width="138" height="13" fill="#b9b9b9"/>
<rect x="96" y="399" width="43" height="76" fill="#b9b9b9"/>
<rect x="195" y="400" width="35" height="35" fill="#b9b9b9"/>
<rect x="96" y="534" width="50" height="2" fill="#b9b9b9"/>
<rect x="96" y="536" width="42" height="8" fill="#b9b9b9"/>
<rect x="96" y="544" width="34" height="6" fill="#b9b9b9"/>
<rect x="169" y="575" width="59" height="19" fill="#e5cfc0"/>
<rect x="96" y="594" width="132" height="60" fill="#e5cfc0"/>
<rect x="96" y="654" width="138" height="5" fill="#d2d2d2"/>
<rect x="102" y="556" width="32" height="17" fill="#ff8080"/>
<rect x="0" y="675" width="250" height="124" fill="#c2c2c2"/>
<rect x="253" y="660" width="147" height="4" fill="#fff"/>
<rect x="245" y="664" width="155" height="8" fill="#fff"/>
<rect x="237" y="672" width="163" height="8" fill="#fff"/>
<rect x="229" y="680" width="171" height="8" fill="#fff"/>
<rect x="221" y="688" width="179" height="8" fill="#fff"/>
<rect x="213" y="696" width="187" height="8" fill="#fff"/>
<rect x="205" y="704" width="195" height="8" fill="#fff"/>
<rect x="197" y="712" width="203" height="8" fill="#fff"/>
<rect x="189" y="720" width="211" height="8" fill="#fff"/>
<rect x="181" y="728" width="219" height="8" fill="#fff"/>
<rect x="173" y="736" width="227" height="8" fill="#fff"/>
<rect x="165" y="744" width="235" height="8" fill="#fff"/>
<rect x="157" y="752" width="243" height="8" fill="#fff"/>
<rect x="149" y="760" width="251" height="8" fill="#fff"/>
<rect x="141" y="768" width="259" height="8" fill="#fff"/>
<rect x="133" y="776" width="267" height="8" fill="#fff"/>
<rect x="125" y="784" width="275" height="8" fill="#fff"/>
<rect x="117" y="792" width="283" height="8" fill="#fff"/>
<rect x="640" y="667" width="360" height="125" fill="#c6c6c6"/>
<rect x="600" y="660" width="192" height="4" fill="#fff"/>
<rect x="600" y="664" width="184" height="8" fill="#fff"/>
<rect x="600" y="672" width="176" height="8" fill="#fff"/>
<rect x="600" y="680" width="168" height="8" fill="#fff"/>
<rect x="600" y="688" width="160" height="8" fill="#fff"/>
<rect x="600" y="696" width="152" height="8" fill="#fff"/>
<rect x="600" y="704" width="144" height="8" fill="#fff"/>
<rect x="600" y="712" width="136" height="8" fill="#fff"/>
<rect x="600" y="720" width="128" height="8" fill="#fff"/>
<rect x="600" y="728" width="120" height="8" fill="#fff"/>
<rect x="600" y="736" width="112" height="8" fill="#fff"/>
<rect x="600" y="744" width="104" height="8" fill="#fff"/>
<rect x="600" y="752" width="96" height="8" fill="#fff"/>
<rect x="600" y="760" width="88" height="8" fill="#fff"/>
<rect x="600" y="768" width="80" height="8" fill="#fff"/>
<rect x="600" y="776" width="72" height="8" fill="#fff"/>
<rect x="600" y="784" width="64" height="8" fill="#fff"/>
<rect x="600" y="792" width="56" height="8" fill="#fff"/>
<rect x="321" y="428" width="55" height="133" fill="#d2d2d2"/>
<rect x="375" y="512" width="1" height="8" fill="#fff"/>
<rect x="367" y="520" width="9" height="8" fill="#fff"/>
<rect x="359" y="528" width="17" height="8" fill="#fff"/>
<rect x="351" y="536" width="25" height="8" fill="#fff"/>
<rect x="343" y="544" width="33" height="8" fill="#fff"/>
<rect x="335" y="552" width="41" height="8" fill="#fff"/>
<rect x="327" y="560" width="49" height="1" fill="#fff"/>
<rect x="0" y="87" width="829" height="1" fill="#000"/>
<rect x="0" y="88" width="821" height="8" fill="#000"/>
<rect x="0" y="96" width="813" height="8" fill="#000"/>
<rect x="0" y="104" width="805" height="5" fill="#000"/>
<rect x="148" y="89.5" width="78" height="4.5" fill="#fff"/>
<rect x="140" y="96" width="78" height="5" fill="#fff"/>
<rect x="145" y="96" width="2.5" height="7" fill="#000"/>
<rect x="210" y="96" width="2.5" height="5" fill="#000"/>
<rect x="140" y="101" width="5" height="2" fill="#fff"/>
<rect x="213" y="101" width="5" height="2" fill="#fff"/>
<rect x="132" y="104" width="5" height="3" fill="#fff"/>
<rect x="140" y="103" width="70" height="4" fill="#fff"/>
<rect x="202" y="103" width="3" height="2" fill="#000"/>
<rect x="147" y="101" width="63" height="2" fill="#000"/>
<rect x="447" y="89" width="283" height="6" fill="#fff"/>
<rect x="440" y="97" width="290" height="6" fill="#fff"/>
<rect x="432" y="104" width="290" height="3" fill="#fff"/>
<rect x="437" y="104" width="3" height="3" fill="#000"/>
<rect x="452" y="95" width="278" height="2" fill="#000"/>
<rect x="445" y="97" width="2" height="7" fill="#000"/>
<rect x="452" y="89" width="2" height="6" fill="#000"/>
<rect x="445" y="103" width="277" height="1.5" fill="#000"/>
<rect x="540" y="89" width="8" height="8" fill="#000"/>
<rect x="532" y="97" width="3" height="7" fill="#000"/>
<rect x="548" y="95" width="3" height="9" fill="#000"/>
<rect x="578" y="89" width="12" height="18" fill="#000"/>
<rect x="570" y="97" width="3" height="7" fill="#000"/>
<rect x="596" y="95" width="3" height="9" fill="#000"/>
<rect x="590" y="89" width="4" height="6" fill="#fff"/>
<rect x="722" y="97" width="3" height="7" fill="#000"/>
<rect x="714" y="103" width="3" height="4" fill="#000"/>
<rect x="217" y="104" width="8" height="8" fill="#000"/>
<rect x="209" y="112" width="8" height="8" fill="#000"/>
<rect x="201" y="120" width="8" height="8" fill="#000"/>
<rect x="193" y="128" width="8" height="8" fill="#000"/>
<rect x="185" y="136" width="8" height="8" fill="#000"/>
<rect x="177" y="144" width="8" height="8" fill="#000"/>
<rect x="169" y="152" width="8" height="8" fill="#000"/>
<rect x="161" y="160" width="8" height="8" fill="#000"/>
<rect x="153" y="168" width="8" height="8" fill="#000"/>
<rect x="145" y="176" width="8" height="8" fill="#000"/>
<rect x="137" y="184" width="8" height="8" fill="#000"/>
<rect x="129" y="192" width="8" height="8" fill="#000"/>
<rect x="121" y="200" width="8" height="8" fill="#000"/>
<rect x="113" y="208" width="8" height="8" fill="#000"/>
<rect x="105" y="216" width="8" height="8" fill="#000"/>
<rect x="97" y="224" width="8" height="8" fill="#000"/>
<rect x="89" y="232" width="8" height="8" fill="#000"/>
<rect x="81" y="240" width="8" height="8" fill="#000"/>
<rect x="73" y="248" width="8" height="8" fill="#000"/>
<rect x="65" y="256" width="8" height="8" fill="#000"/>
<rect x="57" y="264" width="8" height="8" fill="#000"/>
<rect x="49" y="272" width="55" height="8" fill="#000"/>
<rect x="41" y="280" width="55" height="8" fill="#000"/>
<rect x="33" y="288" width="55" height="8" fill="#000"/>
<rect x="20" y="294" width="173" height="8" fill="#000"/>
<rect x="0" y="296" width="18" height="4" fill="#fff"/>
<line x1="0" y1="295.5" x2="20" y2="295.5" stroke="#000" stroke-width="1"/>
<line x1="0" y1="300.5" x2="20" y2="300.5" stroke="#000" stroke-width="1"/>
<rect x="127" y="254" width="113" height="2" fill="#000"/>
<rect x="126" y="249" width="16" height="5" fill="#b9b9b9"/>
<rect x="185" y="147" width="160" height="2" fill="#000"/>
<rect x="570" y="104" width="8" height="8" fill="#2b0000"/>
<rect x="562" y="112" width="8" height="8" fill="#2b0000"/>
<rect x="554" y="120" width="8" height="8" fill="#2b0000"/>
<rect x="546" y="128" width="8" height="8" fill="#2b0000"/>
<rect x="538" y="136" width="8" height="8" fill="#2b0000"/>
<rect x="530" y="144" width="8" height="8" fill="#2b0000"/>
<rect x="522" y="152" width="8" height="8" fill="#2b0000"/>
<rect x="514" y="160" width="8" height="8" fill="#2b0000"/>
<rect x="506" y="168" width="8" height="8" fill="#2b0000"/>
<rect x="498" y="176" width="8" height="8" fill="#2b0000"/>
<rect x="490" y="184" width="8" height="8" fill="#2b0000"/>
<rect x="482" y="192" width="8" height="8" fill="#2b0000"/>
<rect x="474" y="200" width="8" height="8" fill="#2b0000"/>
<rect x="466" y="208" width="8" height="8" fill="#2b0000"/>
<rect x="458" y="216" width="8" height="8" fill="#2b0000"/>
<rect x="450" y="224" width="8" height="8" fill="#2b0000"/>
<rect x="442" y="232" width="8" height="8" fill="#2b0000"/>
<rect x="434" y="240" width="8" height="8" fill="#2b0000"/>
<rect x="426" y="248" width="8" height="8" fill="#2b0000"/>
<rect x="418" y="256" width="8" height="8" fill="#2b0000"/>
<rect x="410" y="264" width="8" height="8" fill="#2b0000"/>
<rect x="402" y="272" width="8" height="8" fill="#2b0000"/>
<rect x="394" y="280" width="8" height="8" fill="#2b0000"/>
<rect x="386" y="288" width="8" height="8" fill="#2b0000"/>
<rect x="378" y="296" width="8" height="8" fill="#2b0000"/>
<rect x="370" y="304" width="8" height="8" fill="#2b0000"/>
<rect x="362" y="312" width="8" height="8" fill="#2b0000"/>
<rect x="354" y="320" width="8" height="8" fill="#fff2cc"/>
<rect x="354" y="320" width="1.5" height="8" fill="#2b0000"/>
<rect x="360.5" y="320" width="1.5" height="8" fill="#2b0000"/>
<rect x="346" y="328" width="8" height="8" fill="#fff2cc"/>
<rect x="346" y="328" width="1.5" height="8" fill="#2b0000"/>
<rect x="352.5" y="328" width="1.5" height="8" fill="#2b0000"/>
<rect x="338" y="336" width="8" height="8" fill="#fff2cc"/>
<rect x="338" y="336" width="1.5" height="8" fill="#2b0000"/>
<rect x="344.5" y="336" width="1.5" height="8" fill="#2b0000"/>
<rect x="330" y="344" width="8" height="8" fill="#fff2cc"/>
<rect x="330" y="344" width="1.5" height="8" fill="#2b0000"/>
<rect x="336.5" y="344" width="1.5" height="8" fill="#2b0000"/>
<rect x="322" y="352" width="8" height="8" fill="#fff2cc"/>
<rect x="322" y="352" width="1.5" height="8" fill="#2b0000"/>
<rect x="328.5" y="352" width="1.5" height="8" fill="#2b0000"/>
<rect x="314" y="360" width="8" height="8" fill="#fff2cc"/>
<rect x="314" y="360" width="1.5" height="8" fill="#2b0000"/>
<rect x="320.5" y="360" width="1.5" height="8" fill="#2b0000"/>
<rect x="306" y="368" width="8" height="8" fill="#fff2cc"/>
<rect x="306" y="368" width="1.5" height="8" fill="#2b0000"/>
<rect x="312.5" y="368" width="1.5" height="8" fill="#2b0000"/>
<rect x="298" y="376" width="8" height="4" fill="#fff2cc"/>
<rect x="298" y="376" width="1.5" height="4" fill="#2b0000"/>
<rect x="304.5" y="376" width="1.5" height="4" fill="#2b0000"/>
<rect x="298" y="380" width="8" height="4" fill="#2b0000"/>
<rect x="290" y="384" width="8" height="8" fill="#2b0000"/>
<rect x="282" y="392" width="8" height="8" fill="#2b0000"/>
<rect x="274" y="400" width="8" height="8" fill="#2b0000"/>
<rect x="266" y="408" width="8" height="8" fill="#2b0000"/>
<rect x="258" y="416" width="8" height="8" fill="#2b0000"/>
<rect x="250" y="424" width="8" height="8" fill="#2b0000"/>
<rect x="242" y="432" width="8" height="8" fill="#2b0000"/>
<rect x="234" y="440" width="8" height="8" fill="#2b0000"/>
<rect x="226" y="448" width="8" height="8" fill="#2b0000"/>
<rect x="218" y="456" width="8" height="4" fill="#2b0000"/>
<rect x="218" y="460" width="14" height="4" fill="#000020"/>
<rect x="210" y="464" width="14" height="8" fill="#000020"/>
<rect x="202" y="472" width="14" height="8" fill="#000020"/>
<rect x="194" y="480" width="14" height="8" fill="#000020"/>
<rect x="186" y="488" width="14" height="8" fill="#000020"/>
<rect x="178" y="496" width="14" height="8" fill="#000020"/>
<rect x="170" y="504" width="14" height="8" fill="#000020"/>
<rect x="162" y="512" width="14" height="8" fill="#000020"/>
<rect x="154" y="520" width="14" height="8" fill="#000020"/>
<rect x="146" y="528" width="14" height="8" fill="#000020"/>
<rect x="138" y="536" width="14" height="8" fill="#000020"/>
<rect x="228" y="460" width="2" height="4" fill="#fff"/>
<rect x="220" y="464" width="2" height="8" fill="#fff"/>
<rect x="212" y="472" width="2" height="8" fill="#fff"/>
<rect x="204" y="480" width="2" height="8" fill="#fff"/>
<rect x="196" y="488" width="2" height="8" fill="#fff"/>
<rect x="188" y="496" width="2" height="8" fill="#fff"/>
<rect x="180" y="504" width="2" height="8" fill="#fff"/>
<rect x="172" y="512" width="2" height="8" fill="#fff"/>
<rect x="164" y="520" width="2" height="8" fill="#fff"/>
<rect x="156" y="528" width="2" height="8" fill="#fff"/>
<rect x="148" y="536" width="2" height="8" fill="#fff"/>
<rect x="130" y="544" width="9" height="8" fill="#000010"/>
<rect x="122" y="552" width="9" height="8" fill="#000010"/>
<rect x="114" y="560" width="9" height="8" fill="#000010"/>
<rect x="106" y="568" width="9" height="8" fill="#000010"/>
<rect x="98" y="576" width="9" height="8" fill="#000010"/>
<rect x="90" y="584" width="9" height="8" fill="#000010"/>
<rect x="82" y="592" width="9" height="8" fill="#000010"/>
<rect x="74" y="600" width="9" height="8" fill="#000010"/>
<rect x="66" y="608" width="9" height="8" fill="#000010"/>
<rect x="58" y="616" width="9" height="8" fill="#000010"/>
<rect x="50" y="624" width="9" height="8" fill="#000010"/>
<rect x="42" y="632" width="9" height="8" fill="#000010"/>
<rect x="34" y="640" width="9" height="8" fill="#000010"/>
<rect x="26" y="648" width="9" height="8" fill="#000010"/>
<rect x="18" y="656" width="9" height="8" fill="#000010"/>
<rect x="132" y="544" width="5" height="8" fill="#fff"/>
<rect x="124" y="552" width="5" height="8" fill="#fff"/>
<rect x="116" y="560" width="5" height="8" fill="#fff"/>
<rect x="108" y="568" width="5" height="8" fill="#fff"/>
<rect x="100" y="576" width="5" height="8" fill="#fff"/>
<rect x="92" y="584" width="5" height="8" fill="#fff"/>
<rect x="84" y="592" width="5" height="8" fill="#fff"/>
<rect x="76" y="600" width="5" height="8" fill="#fff"/>
<rect x="68" y="608" width="5" height="8" fill="#fff"/>
<rect x="60" y="616" width="5" height="8" fill="#fff"/>
<rect x="52" y="624" width="5" height="8" fill="#fff"/>
<rect x="44" y="632" width="5" height="8" fill="#fff"/>
<rect x="36" y="640" width="5" height="8" fill="#fff"/>
<rect x="28" y="648" width="5" height="8" fill="#fff"/>
<rect x="20" y="656" width="5" height="4" fill="#fff"/>
<rect x="298" y="388" width="178" height="4" fill="#fff2cc"/>
<rect x="290" y="392" width="178" height="8" fill="#fff2cc"/>
<rect x="282" y="400" width="178" height="8" fill="#fff2cc"/>
<rect x="274" y="408" width="178" height="8" fill="#fff2cc"/>
<rect x="266" y="416" width="178" height="4" fill="#fff2cc"/>
<rect x="381" y="383" width="103" height="1" fill="#fff2cc"/>
<rect x="381" y="384" width="95" height="4" fill="#fff2cc"/>
<rect x="321" y="388" width="55" height="32" fill="#fff"/>
<rect x="298" y="380" width="82" height="4" fill="#2b0000"/>
<rect x="290" y="384" width="90" height="4" fill="#2b0000"/>
<rect x="380" y="380" width="110" height="3" fill="#2b0000"/>
<rect x="484" y="380" width="27" height="4" fill="#2b0000"/>
<rect x="476" y="384" width="27" height="8" fill="#2b0000"/>
<rect x="468" y="392" width="27" height="8" fill="#2b0000"/>
<rect x="460" y="400" width="27" height="8" fill="#2b0000"/>
<rect x="452" y="408" width="27" height="8" fill="#2b0000"/>
<rect x="444" y="416" width="27" height="8" fill="#2b0000"/>
<rect x="436" y="424" width="27" height="4" fill="#2b0000"/>
<rect x="324" y="420" width="170" height="8" fill="#2b0000"/>
<line x1="262" y1="425" x2="324" y2="425" stroke="#2b0000" stroke-width="2"/>
<rect x="324" y="420" width="52" height="8" fill="#000"/>
<rect x="372" y="380" width="8" height="4" fill="#000"/>
<rect x="364" y="384" width="8" height="8" fill="#000"/>
<rect x="356" y="392" width="8" height="8" fill="#000"/>
<rect x="348" y="400" width="8" height="8" fill="#000"/>
<rect x="340" y="408" width="8" height="8" fill="#000"/>
<rect x="332" y="416" width="8" height="8" fill="#000"/>
<rect x="324" y="424" width="8" height="4" fill="#000"/>
<line x1="312" y1="374" x2="361" y2="374" stroke="#2b0000" stroke-width="2"/>
<line x1="360" y1="368" x2="360" y2="375" stroke="#2b0000" stroke-width="2"/>
<rect x="783" y="104" width="22" height="8" fill="#001000"/>
<rect x="775" y="112" width="22" height="8" fill="#001000"/>
<rect x="767" y="120" width="22" height="8" fill="#001000"/>
<rect x="759" y="128" width="22" height="8" fill="#001000"/>
<rect x="751" y="136" width="22" height="8" fill="#001000"/>
<rect x="743" y="144" width="22" height="8" fill="#001000"/>
<rect x="735" y="152" width="22" height="8" fill="#001000"/>
<rect x="727" y="160" width="22" height="8" fill="#001000"/>
<rect x="719" y="168" width="22" height="8" fill="#001000"/>
<rect x="711" y="176" width="22" height="8" fill="#001000"/>
<rect x="703" y="184" width="22" height="8" fill="#001000"/>
<rect x="695" y="192" width="22" height="8" fill="#001000"/>
<rect x="687" y="200" width="22" height="8" fill="#001000"/>
<rect x="679" y="208" width="22" height="8" fill="#001000"/>
<rect x="671" y="216" width="22" height="8" fill="#2b0000"/>
<rect x="663" y="224" width="22" height="8" fill="#2b0000"/>
<rect x="655" y="232" width="22" height="8" fill="#2b0000"/>
<rect x="647" y="240" width="22" height="8" fill="#2b0000"/>
<rect x="639" y="248" width="22" height="8" fill="#2b0000"/>
<rect x="631" y="256" width="22" height="8" fill="#2b0000"/>
<rect x="623" y="264" width="22" height="8" fill="#2b0000"/>
<rect x="615" y="272" width="22" height="8" fill="#2b0000"/>
<rect x="607" y="280" width="22" height="8" fill="#2b0000"/>
<rect x="599" y="288" width="22" height="8" fill="#2b0000"/>
<rect x="591" y="296" width="22" height="8" fill="#2b0000"/>
<rect x="583" y="304" width="22" height="8" fill="#2b0000"/>
<rect x="575" y="312" width="22" height="8" fill="#2b0000"/>
<rect x="567" y="320" width="22" height="8" fill="#2b0000"/>
<rect x="559" y="328" width="22" height="8" fill="#2b0000"/>
<rect x="551" y="336" width="22" height="8" fill="#2b0000"/>
<rect x="543" y="344" width="22" height="8" fill="#2b0000"/>
<rect x="535" y="352" width="22" height="8" fill="#2b0000"/>
<rect x="527" y="360" width="22" height="8" fill="#2b0000"/>
<rect x="519" y="368" width="22" height="8" fill="#2b0000"/>
<rect x="511" y="376" width="22" height="8" fill="#2b0000"/>
<rect x="503" y="384" width="22" height="8" fill="#2b0000"/>
<rect x="495" y="392" width="22" height="8" fill="#2b0000"/>
<rect x="487" y="400" width="22" height="8" fill="#2b0000"/>
<rect x="479" y="408" width="22" height="8" fill="#2b0000"/>
<rect x="471" y="416" width="22" height="8" fill="#2b0000"/>
<rect x="463" y="424" width="22" height="8" fill="#2b0000"/>
<rect x="455" y="432" width="22" height="8" fill="#2b0000"/>
<rect x="447" y="440" width="22" height="8" fill="#2b0000"/>
<rect x="439" y="448" width="22" height="8" fill="#2b0000"/>
<rect x="431" y="456" width="22" height="8" fill="#2b0000"/>
<rect x="423" y="464" width="22" height="8" fill="#2b0000"/>
<rect x="415" y="472" width="22" height="8" fill="#2b0000"/>
<rect x="407" y="480" width="22" height="8" fill="#2b0000"/>
<rect x="399" y="488" width="22" height="8" fill="#2b0000"/>
<rect x="391" y="496" width="22" height="8" fill="#2b0000"/>
<rect x="383" y="504" width="22" height="8" fill="#2b0000"/>
<rect x="375" y="512" width="22" height="8" fill="#2b0000"/>
<rect x="367" y="520" width="22" height="8" fill="#2b0000"/>
<rect x="359" y="528" width="22" height="8" fill="#2b0000"/>
<rect x="351" y="536" width="22" height="8" fill="#2b0000"/>
<rect x="343" y="544" width="22" height="8" fill="#2b0000"/>
<rect x="335" y="552" width="22" height="8" fill="#2b0000"/>
<rect x="327" y="560" width="22" height="8" fill="#2b0000"/>
<rect x="319" y="568" width="22" height="8" fill="#2b0000"/>
<rect x="311" y="576" width="22" height="8" fill="#2b0000"/>
<rect x="303" y="584" width="22" height="8" fill="#2b0000"/>
<rect x="295" y="592" width="22" height="8" fill="#2b0000"/>
<rect x="287" y="600" width="22" height="8" fill="#2b0000"/>
<rect x="279" y="608" width="22" height="8" fill="#2b0000"/>
<rect x="271" y="616" width="22" height="8" fill="#2b0000"/>
<rect x="263" y="624" width="22" height="8" fill="#2b0000"/>
<rect x="255" y="632" width="22" height="8" fill="#2b0000"/>
<rect x="247" y="640" width="22" height="8" fill="#2b0000"/>
<rect x="239" y="648" width="22" height="8" fill="#2b0000"/>
<rect x="231" y="656" width="22" height="8" fill="#000"/>
<rect x="223" y="664" width="22" height="8" fill="#000"/>
<rect x="215" y="672" width="22" height="8" fill="#000"/>
<rect x="207" y="680" width="22" height="8" fill="#000"/>
<rect x="199" y="688" width="22" height="8" fill="#000"/>
<rect x="191" y="696" width="22" height="8" fill="#000"/>
<rect x="183" y="704" width="22" height="8" fill="#000"/>
<rect x="175" y="712" width="22" height="8" fill="#000"/>
<rect x="167" y="720" width="22" height="8" fill="#000"/>
<rect x="159" y="728" width="22" height="8" fill="#000"/>
<rect x="151" y="736" width="22" height="8" fill="#000"/>
<rect x="143" y="744" width="22" height="8" fill="#000"/>
<rect x="135" y="752" width="22" height="8" fill="#000"/>
<rect x="127" y="760" width="22" height="8" fill="#000"/>
<rect x="119" y="768" width="22" height="8" fill="#000"/>
<rect x="111" y="776" width="22" height="8" fill="#000"/>
<rect x="103" y="784" width="22" height="8" fill="#000"/>
<rect x="95" y="792" width="22" height="8" fill="#000"/>
<rect x="992" y="88" width="16" height="8" fill="#001000"/>
<rect x="984" y="96" width="16" height="8" fill="#001000"/>
<rect x="976" y="104" width="16" height="8" fill="#001000"/>
<rect x="968" y="112" width="16" height="8" fill="#001000"/>
<rect x="960" y="120" width="16" height="8" fill="#001000"/>
<rect x="952" y="128" width="16" height="8" fill="#001000"/>
<rect x="944" y="136" width="16" height="8" fill="#001000"/>
<rect x="936" y="144" width="16" height="8" fill="#001000"/>
<rect x="928" y="152" width="16" height="8" fill="#001000"/>
<rect x="920" y="160" width="16" height="8" fill="#001000"/>
<rect x="912" y="168" width="16" height="8" fill="#001000"/>
<rect x="904" y="176" width="16" height="8" fill="#001000"/>
<rect x="896" y="184" width="16" height="8" fill="#001000"/>
<rect x="888" y="192" width="16" height="8" fill="#001000"/>
<rect x="880" y="200" width="16" height="8" fill="#001000"/>
<rect x="872" y="208" width="16" height="8" fill="#001000"/>
<rect x="864" y="216" width="16" height="8" fill="#001000"/>
<rect x="856" y="224" width="16" height="8" fill="#001000"/>
<rect x="848" y="232" width="16" height="8" fill="#001000"/>
<rect x="840" y="240" width="16" height="8" fill="#001000"/>
<rect x="832" y="248" width="16" height="8" fill="#001000"/>
<rect x="824" y="256" width="16" height="8" fill="#001000"/>
<rect x="816" y="264" width="16" height="8" fill="#001000"/>
<rect x="808" y="272" width="16" height="8" fill="#001000"/>
<rect x="800" y="280" width="16" height="8" fill="#001000"/>
<rect x="792" y="288" width="16" height="8" fill="#001000"/>
<rect x="784" y="296" width="16" height="8" fill="#001000"/>
<rect x="776" y="304" width="16" height="8" fill="#001000"/>
<rect x="768" y="312" width="16" height="8" fill="#001000"/>
<rect x="760" y="320" width="16" height="8" fill="#001000"/>
<rect x="752" y="328" width="16" height="8" fill="#001000"/>
<rect x="744" y="336" width="16" height="8" fill="#001000"/>
<rect x="736" y="344" width="16" height="8" fill="#001000"/>
<rect x="728" y="352" width="16" height="8" fill="#001000"/>
<rect x="720" y="360" width="16" height="8" fill="#001000"/>
<rect x="712" y="368" width="16" height="8" fill="#001000"/>
<rect x="704" y="376" width="16" height="8" fill="#001000"/>
<rect x="696" y="384" width="16" height="8" fill="#001000"/>
<rect x="688" y="392" width="16" height="8" fill="#001000"/>
<rect x="680" y="400" width="16" height="8" fill="#2b0000"/>
<rect x="672" y="408" width="16" height="8" fill="#2b0000"/>
<rect x="664" y="416" width="16" height="8" fill="#2b0000"/>
<rect x="656" y="424" width="16" height="8" fill="#2b0000"/>
<rect x="648" y="432" width="16" height="8" fill="#2b0000"/>
<rect x="640" y="440" width="16" height="8" fill="#2b0000"/>
<rect x="632" y="448" width="16" height="8" fill="#2b0000"/>
<rect x="624" y="456" width="16" height="8" fill="#2b0000"/>
<rect x="616" y="464" width="16" height="8" fill="#2b0000"/>
<rect x="608" y="472" width="16" height="8" fill="#2b0000"/>
<rect x="600" y="480" width="16" height="8" fill="#2b0000"/>
<rect x="592" y="488" width="16" height="8" fill="#2b0000"/>
<rect x="584" y="496" width="16" height="8" fill="#2b0000"/>
<rect x="576" y="504" width="16" height="8" fill="#2b0000"/>
<rect x="568" y="512" width="16" height="8" fill="#2b0000"/>
<rect x="560" y="520" width="16" height="8" fill="#2b0000"/>
<rect x="552" y="528" width="16" height="8" fill="#2b0000"/>
<rect x="544" y="536" width="16" height="8" fill="#2b0000"/>
<rect x="536" y="544" width="16" height="8" fill="#2b0000"/>
<rect x="528" y="552" width="16" height="8" fill="#2b0000"/>
<rect x="520" y="560" width="16" height="8" fill="#2b0000"/>
<rect x="512" y="568" width="16" height="8" fill="#2b0000"/>
<rect x="504" y="576" width="16" height="8" fill="#2b0000"/>
<rect x="496" y="584" width="16" height="8" fill="#2b0000"/>
<rect x="488" y="592" width="16" height="8" fill="#2b0000"/>
<rect x="480" y="600" width="16" height="8" fill="#2b0000"/>
<rect x="472" y="608" width="16" height="8" fill="#2b0000"/>
<rect x="464" y="616" width="16" height="8" fill="#2b0000"/>
<rect x="456" y="624" width="16" height="8" fill="#2b0000"/>
<rect x="448" y="632" width="16" height="8" fill="#2b0000"/>
<rect x="440" y="640" width="16" height="8" fill="#2b0000"/>
<rect x="432" y="648" width="16" height="8" fill="#2b0000"/>
<rect x="424" y="656" width="16" height="8" fill="#2b0000"/>
<rect x="800" y="286" width="168" height="9" fill="#000"/>
<rect x="800" y="286" width="168" height="2" fill="#000"/>
<rect x="792" y="288" width="176" height="7" fill="#000"/>
<rect x="968" y="288" width="32" height="5" fill="#fff"/>
<line x1="968" y1="287" x2="1000" y2="287" stroke="#000" stroke-width="2"/>
<line x1="968" y1="294" x2="1000" y2="294" stroke="#000" stroke-width="2"/>
<rect x="704" y="378" width="64" height="6" fill="#000"/>
<rect x="696" y="384" width="64" height="8" fill="#000"/>
<rect x="688" y="392" width="64" height="8" fill="#000"/>
<rect x="680" y="400" width="64" height="8" fill="#000"/>
<rect x="674" y="408" width="62" height="8" fill="#000"/>
<rect x="674" y="416" width="54" height="4" fill="#000"/>
<rect x="720" y="378" width="142" height="10" fill="#000"/>
<rect x="696" y="388" width="191" height="4" fill="#bebebe"/>
<rect x="688" y="392" width="199" height="8" fill="#bebebe"/>
<rect x="680" y="400" width="207" height="8" fill="#bebebe"/>
<rect x="674" y="408" width="213" height="8" fill="#bebebe"/>
<rect x="674" y="416" width="213" height="8" fill="#bebebe"/>
<rect x="674" y="424" width="213" height="4" fill="#bebebe"/>
<rect x="704" y="378" width="64" height="6" fill="#000"/>
<rect x="696" y="384" width="64" height="8" fill="#000"/>
<rect x="688" y="392" width="64" height="8" fill="#000"/>
<rect x="680" y="400" width="64" height="8" fill="#000"/>
<rect x="674" y="408" width="62" height="8" fill="#000"/>
<rect x="674" y="416" width="54" height="4" fill="#000"/>
<rect x="760" y="389" width="32" height="3" fill="#fff"/>
<rect x="752" y="392" width="40" height="8" fill="#fff"/>
<rect x="744" y="400" width="48" height="8" fill="#fff"/>
<rect x="736" y="408" width="56" height="8" fill="#fff"/>
<rect x="728" y="416" width="64" height="4" fill="#fff"/>
<rect x="800" y="392" width="38" height="32" fill="#e8e8e8"/>
<rect x="938" y="296" width="8" height="8" fill="#000"/>
<rect x="930" y="304" width="8" height="8" fill="#000"/>
<rect x="922" y="312" width="8" height="8" fill="#000"/>
<rect x="914" y="320" width="8" height="8" fill="#fff"/>
<rect x="914" y="320" width="1.5" height="8" fill="#000"/>
<rect x="920.5" y="320" width="1.5" height="8" fill="#000"/>
<rect x="906" y="328" width="8" height="8" fill="#fff"/>
<rect x="906" y="328" width="1.5" height="8" fill="#000"/>
<rect x="912.5" y="328" width="1.5" height="8" fill="#000"/>
<rect x="898" y="336" width="8" height="8" fill="#fff"/>
<rect x="898" y="336" width="1.5" height="8" fill="#000"/>
<rect x="904.5" y="336" width="1.5" height="8" fill="#000"/>
<rect x="890" y="344" width="8" height="8" fill="#fff"/>
<rect x="890" y="344" width="1.5" height="8" fill="#000"/>
<rect x="896.5" y="344" width="1.5" height="8" fill="#000"/>
<rect x="882" y="352" width="8" height="8" fill="#fff"/>
<rect x="882" y="352" width="1.5" height="8" fill="#000"/>
<rect x="888.5" y="352" width="1.5" height="8" fill="#000"/>
<rect x="874" y="360" width="8" height="8" fill="#fff"/>
<rect x="874" y="360" width="1.5" height="8" fill="#000"/>
<rect x="880.5" y="360" width="1.5" height="8" fill="#000"/>
<rect x="866" y="368" width="8" height="8" fill="#fff"/>
<rect x="866" y="368" width="1.5" height="8" fill="#000"/>
<rect x="872.5" y="368" width="1.5" height="8" fill="#000"/>
<rect x="858" y="376" width="8" height="8" fill="#000"/>
<rect x="850" y="384" width="8" height="8" fill="#000"/>
<rect x="842" y="392" width="8" height="8" fill="#000"/>
<rect x="834" y="400" width="8" height="8" fill="#000"/>
<rect x="826" y="408" width="8" height="8" fill="#000"/>
<rect x="818" y="416" width="8" height="8" fill="#000"/>
<rect x="810" y="424" width="8" height="4" fill="#000"/>
<rect x="738" y="496" width="8" height="8" fill="#001000"/>
<rect x="730" y="504" width="8" height="8" fill="#001000"/>
<rect x="722" y="512" width="8" height="8" fill="#001000"/>
<rect x="714" y="520" width="8" height="8" fill="#001000"/>
<rect x="692" y="528" width="22" height="8" fill="#001000"/>
<rect x="684" y="536" width="22" height="8" fill="#001000"/>
<rect x="676" y="544" width="22" height="8" fill="#001000"/>
<rect x="676" y="552" width="16" height="8" fill="#2b0000"/>
<rect x="668" y="560" width="16" height="8" fill="#2b0000"/>
<rect x="660" y="568" width="16" height="8" fill="#2b0000"/>
<rect x="652" y="576" width="16" height="8" fill="#2b0000"/>
<rect x="644" y="584" width="16" height="8" fill="#2b0000"/>
<rect x="636" y="592" width="16" height="8" fill="#2b0000"/>
<rect x="628" y="600" width="16" height="8" fill="#2b0000"/>
<rect x="620" y="608" width="16" height="8" fill="#2b0000"/>
<rect x="612" y="616" width="16" height="8" fill="#2b0000"/>
<rect x="604" y="624" width="16" height="8" fill="#2b0000"/>
<rect x="596" y="632" width="16" height="8" fill="#2b0000"/>
<rect x="588" y="640" width="16" height="8" fill="#2b0000"/>
<rect x="580" y="648" width="16" height="4" fill="#2b0000"/>
<rect x="938" y="379" width="62" height="9" fill="#000"/>
<rect x="984" y="384" width="8" height="8" fill="#000"/>
<rect x="976" y="392" width="8" height="8" fill="#000"/>
<rect x="968" y="400" width="8" height="8" fill="#000"/>
<rect x="960" y="408" width="8" height="8" fill="#000"/>
<rect x="952" y="416" width="8" height="8" fill="#000"/>
<rect x="944" y="424" width="8" height="8" fill="#000"/>
<rect x="936" y="432" width="8" height="8" fill="#000"/>
<rect x="928" y="440" width="8" height="8" fill="#000"/>
<rect x="920" y="448" width="8" height="8" fill="#000"/>
<rect x="912" y="456" width="8" height="8" fill="#000"/>
<rect x="904" y="464" width="8" height="8" fill="#000"/>
<rect x="896" y="472" width="8" height="8" fill="#000"/>
<rect x="888" y="480" width="8" height="8" fill="#000"/>
<rect x="880" y="488" width="8" height="8" fill="#000"/>
<rect x="872" y="496" width="8" height="8" fill="#000"/>
<rect x="864" y="504" width="8" height="8" fill="#000"/>
<rect x="856" y="512" width="8" height="8" fill="#000"/>
<rect x="848" y="520" width="8" height="8" fill="#000"/>
<rect x="840" y="528" width="8" height="8" fill="#000"/>
<rect x="832" y="536" width="8" height="8" fill="#000"/>
<rect x="824" y="544" width="8" height="8" fill="#000"/>
<rect x="769" y="545" width="56" height="8" fill="#001000"/>
<rect x="576" y="525" width="84" height="3" fill="#2b0000"/>
<rect x="568" y="528" width="84" height="8" fill="#2b0000"/>
<rect x="560" y="536" width="84" height="4" fill="#2b0000"/>
<rect x="607" y="566" width="62" height="2" fill="#2b0000"/>
<rect x="600" y="568" width="60" height="8" fill="#fdd9b0"/>
<rect x="600" y="576" width="52" height="8" fill="#fdd9b0"/>
<rect x="512" y="584" width="134" height="2" fill="#2b0000"/>
<rect x="512" y="586" width="132" height="6" fill="#fdd9b0"/>
<rect x="504" y="592" width="132" height="8" fill="#fdd9b0"/>
<rect x="496" y="600" width="132" height="4" fill="#fdd9b0"/>
<rect x="496" y="604" width="130" height="2" fill="#2b0000"/>
<rect x="496" y="606" width="132" height="2" fill="#fdd9b0"/>
<rect x="488" y="608" width="132" height="8" fill="#fdd9b0"/>
<rect x="480" y="616" width="132" height="8" fill="#fdd9b0"/>
<rect x="472" y="624" width="132" height="8" fill="#fdd9b0"/>
<rect x="464" y="632" width="132" height="8" fill="#fdd9b0"/>
<rect x="456" y="640" width="132" height="6" fill="#fdd9b0"/>
<polygon points="558,546 592,546 576,566 542,566" fill="#7a4a1a"/>
<rect x="456" y="645" width="136" height="3" fill="#2b0000"/>
<rect x="448" y="648" width="144" height="8" fill="#2b0000"/>
<rect x="440" y="656" width="152" height="4" fill="#2b0000"/>
<rect x="416" y="664" width="264" height="4" fill="#000"/>
<rect x="425" y="660" width="170" height="5" fill="#000"/>
<rect x="590" y="660" width="90" height="4" fill="#000"/>
<rect x="586" y="653" width="78" height="7" fill="#fff2cc"/>
<rect x="586" y="660" width="78" height="5" fill="#fff"/>
<rect x="666" y="652" width="126" height="15" fill="#000"/>
<rect x="792" y="652" width="208" height="15" fill="#fff"/>
<line x1="792" y1="653" x2="1000" y2="653" stroke="#000" stroke-width="2"/>
<line x1="792" y1="666" x2="1000" y2="666" stroke="#000" stroke-width="2"/>
<line x1="873" y1="660" x2="1000" y2="660" stroke="#000" stroke-width="1.5"/>
<rect x="0" y="659" width="240" height="16" fill="#fff"/>
<line x1="0" y1="660" x2="240" y2="660" stroke="#000" stroke-width="2"/>
<line x1="0" y1="674" x2="240" y2="674" stroke="#000" stroke-width="2"/>
<line x1="30" y1="667" x2="240" y2="667" stroke="#000" stroke-width="1.5"/>
<rect x="231" y="659" width="169" height="5" fill="#fff"/>
<rect x="223" y="664" width="177" height="8" fill="#fff"/>
<rect x="215" y="672" width="185" height="8" fill="#fff"/>
<rect x="231" y="656" width="22" height="8" fill="#000"/>
<rect x="223" y="664" width="22" height="8" fill="#000"/>
<rect x="215" y="672" width="22" height="8" fill="#000"/>
<rect x="207" y="680" width="22" height="8" fill="#000"/>
<rect x="199" y="688" width="22" height="8" fill="#000"/>
<rect x="191" y="696" width="22" height="8" fill="#000"/>
<rect x="183" y="704" width="22" height="8" fill="#000"/>
<rect x="175" y="712" width="22" height="8" fill="#000"/>
<rect x="167" y="720" width="22" height="8" fill="#000"/>
<rect x="159" y="728" width="22" height="8" fill="#000"/>
<rect x="151" y="736" width="22" height="8" fill="#000"/>
<rect x="143" y="744" width="22" height="8" fill="#000"/>
<rect x="135" y="752" width="22" height="8" fill="#000"/>
<rect x="127" y="760" width="22" height="8" fill="#000"/>
<rect x="119" y="768" width="22" height="8" fill="#000"/>
<rect x="111" y="776" width="22" height="8" fill="#000"/>
<rect x="103" y="784" width="22" height="8" fill="#000"/>
<rect x="95" y="792" width="22" height="8" fill="#000"/>
<rect x="0" y="799" width="109" height="7" fill="#fff"/>
<line x1="0" y1="799.5" x2="109" y2="799.5" stroke="#000" stroke-width="1.5"/>
<line x1="0" y1="805.5" x2="109" y2="805.5" stroke="#000" stroke-width="1.5"/>
<line x1="108.5" y1="799" x2="108.5" y2="806" stroke="#000" stroke-width="1.5"/>
<rect x="764" y="667" width="22" height="5" fill="#000"/>
<rect x="756" y="672" width="22" height="8" fill="#000"/>
<rect x="748" y="680" width="22" height="8" fill="#000"/>
<rect x="740" y="688" width="22" height="8" fill="#000"/>
<rect x="732" y="696" width="22" height="8" fill="#000"/>
<rect x="724" y="704" width="22" height="8" fill="#000"/>
<rect x="716" y="712" width="22" height="8" fill="#000"/>
<rect x="708" y="720" width="22" height="8" fill="#000"/>
<rect x="700" y="728" width="22" height="8" fill="#000"/>
<rect x="692" y="736" width="22" height="8" fill="#000"/>
<rect x="684" y="740" width="20" height="4" fill="#000"/>
<rect x="636" y="792" width="22" height="8" fill="#000"/>
<rect x="628" y="800" width="22" height="8" fill="#000"/>
<rect x="620" y="808" width="22" height="6" fill="#000"/>
<rect x="692" y="744" width="1.5" height="8" fill="#000"/>
<rect x="699" y="744" width="1.5" height="8" fill="#000"/>
<rect x="684" y="752" width="1.5" height="8" fill="#000"/>
<rect x="691" y="752" width="1.5" height="8" fill="#000"/>
<rect x="676" y="760" width="1.5" height="8" fill="#000"/>
<rect x="683" y="760" width="1.5" height="8" fill="#000"/>
<rect x="668" y="768" width="1.5" height="8" fill="#000"/>
<rect x="675" y="768" width="1.5" height="8" fill="#000"/>
<rect x="660" y="776" width="1.5" height="8" fill="#000"/>
<rect x="667" y="776" width="1.5" height="8" fill="#000"/>
<rect x="652" y="784" width="1.5" height="8" fill="#000"/>
<rect x="659" y="784" width="1.5" height="8" fill="#000"/>
<rect x="792" y="667" width="1.5" height="9" fill="#000"/>
<rect x="784" y="672" width="1.5" height="12" fill="#000"/>
<rect x="776" y="680" width="1.5" height="12" fill="#000"/>
<rect x="768" y="688" width="1.5" height="12" fill="#000"/>
<rect x="760" y="696" width="1.5" height="12" fill="#000"/>
<rect x="752" y="704" width="1.5" height="12" fill="#000"/>
<rect x="744" y="712" width="1.5" height="12" fill="#000"/>
<rect x="736" y="720" width="1.5" height="12" fill="#000"/>
<rect x="728" y="728" width="1.5" height="12" fill="#000"/>
<rect x="720" y="736" width="1.5" height="12" fill="#000"/>
<rect x="657" y="792" width="343" height="7" fill="#fff"/>
<line x1="657" y1="793" x2="1000" y2="793" stroke="#000" stroke-width="2"/>
<line x1="657" y1="798.5" x2="1000" y2="798.5" stroke="#000" stroke-width="1.5"/>
<rect x="112" y="888" width="888" height="3" fill="#000"/>
<clipPath id="c1"><rect x="0" y="177.75" width="1000" height="6.25"/></clipPath>
<g clip-path="url(#c1)"><text x="22" y="197" font-size="25" fill="#000" font-weight="bold" transform="translate(8,0)">MH</text></g>
<clipPath id="c2"><rect x="0" y="184" width="1000" height="8"/></clipPath>
<g clip-path="url(#c2)"><text x="22" y="197" font-size="25" fill="#000" font-weight="bold" transform="translate(0,0)">MH</text></g>
<clipPath id="c3"><rect x="0" y="192" width="1000" height="7"/></clipPath>
<g clip-path="url(#c3)"><text x="22" y="197" font-size="25" fill="#000" font-weight="bold" transform="translate(-8,0)">MH</text></g>
<text x="205" y="196" font-size="25" fill="#bcc3be" font-weight="bold" text-anchor="start" >MH</text>
<clipPath id="c4"><rect x="0" y="197.75" width="1000" height="2.25"/></clipPath>
<g clip-path="url(#c4)"><text x="238" y="217" font-size="25" fill="#001000" font-weight="bold" transform="translate(16,0)">K</text></g>
<clipPath id="c5"><rect x="0" y="200" width="1000" height="8"/></clipPath>
<g clip-path="url(#c5)"><text x="238" y="217" font-size="25" fill="#001000" font-weight="bold" transform="translate(8,0)">K</text></g>
<clipPath id="c6"><rect x="0" y="208" width="1000" height="8"/></clipPath>
<g clip-path="url(#c6)"><text x="238" y="217" font-size="25" fill="#001000" font-weight="bold" transform="translate(0,0)">K</text></g>
<clipPath id="c7"><rect x="0" y="216" width="1000" height="3"/></clipPath>
<g clip-path="url(#c7)"><text x="238" y="217" font-size="25" fill="#001000" font-weight="bold" transform="translate(-8,0)">K</text></g>
<text x="445" y="217" font-size="25" fill="#d6cac2" font-weight="bold" text-anchor="start" >K</text>
<clipPath id="c8"><rect x="0" y="184.75" width="1000" height="7.25"/></clipPath>
<g clip-path="url(#c8)"><text x="580" y="204" font-size="25" fill="#2b0000" font-weight="bold" transform="translate(8,0)">MH</text></g>
<clipPath id="c9"><rect x="0" y="192" width="1000" height="8"/></clipPath>
<g clip-path="url(#c9)"><text x="580" y="204" font-size="25" fill="#2b0000" font-weight="bold" transform="translate(0,0)">MH</text></g>
<clipPath id="c10"><rect x="0" y="200" width="1000" height="6"/></clipPath>
<g clip-path="url(#c10)"><text x="580" y="204" font-size="25" fill="#2b0000" font-weight="bold" transform="translate(-8,0)">MH</text></g>
<text x="772" y="204" font-size="25" fill="#fff" font-weight="bold" text-anchor="start" >MH</text>
<text x="166" y="368" font-size="22" fill="#b3bdd3" font-weight="bold" text-anchor="start" >WC</text>
<clipPath id="c11"><rect x="0" y="390.385" width="1000" height="1.615"/></clipPath>
<g clip-path="url(#c11)"><text x="105" y="410" font-size="25.5" fill="#000" font-weight="bold" transform="translate(16,0)">4H+K+S</text></g>
<clipPath id="c12"><rect x="0" y="392" width="1000" height="8"/></clipPath>
<g clip-path="url(#c12)"><text x="105" y="410" font-size="25.5" fill="#000" font-weight="bold" transform="translate(8,0)">4H+K+S</text></g>
<clipPath id="c13"><rect x="0" y="400" width="1000" height="8"/></clipPath>
<g clip-path="url(#c13)"><text x="105" y="410" font-size="25.5" fill="#000" font-weight="bold" transform="translate(0,0)">4H+K+S</text></g>
<clipPath id="c14"><rect x="0" y="408" width="1000" height="4"/></clipPath>
<g clip-path="url(#c14)"><text x="105" y="410" font-size="25.5" fill="#000" font-weight="bold" transform="translate(-8,0)">4H+K+S</text></g>
<clipPath id="c15"><rect x="0" y="422.385" width="1000" height="1.615"/></clipPath>
<g clip-path="url(#c15)"><text x="72" y="442" font-size="25.5" fill="#000018" font-weight="bold" transform="translate(16,0)">84,5 m²</text></g>
<clipPath id="c16"><rect x="0" y="424" width="1000" height="8"/></clipPath>
<g clip-path="url(#c16)"><text x="72" y="442" font-size="25.5" fill="#000018" font-weight="bold" transform="translate(8,0)">84,5 m²</text></g>
<clipPath id="c17"><rect x="0" y="432" width="1000" height="8"/></clipPath>
<g clip-path="url(#c17)"><text x="72" y="442" font-size="25.5" fill="#000018" font-weight="bold" transform="translate(0,0)">84,5 m²</text></g>
<clipPath id="c18"><rect x="0" y="440" width="1000" height="4"/></clipPath>
<g clip-path="url(#c18)"><text x="72" y="442" font-size="25.5" fill="#000018" font-weight="bold" transform="translate(-8,0)">84,5 m²</text></g>
<text x="165" y="468" font-size="22" fill="#b3bdd3" font-weight="bold" text-anchor="start" >KH</text>
<clipPath id="c19"><rect x="0" y="342.75" width="1000" height="1.25"/></clipPath>
<g clip-path="url(#c19)"><text x="818" y="362" font-size="25" fill="#001000" font-weight="bold" transform="translate(16,0)">WC</text></g>
<clipPath id="c20"><rect x="0" y="344" width="1000" height="8"/></clipPath>
<g clip-path="url(#c20)"><text x="818" y="362" font-size="25" fill="#001000" font-weight="bold" transform="translate(8,0)">WC</text></g>
<clipPath id="c21"><rect x="0" y="352" width="1000" height="8"/></clipPath>
<g clip-path="url(#c21)"><text x="818" y="362" font-size="25" fill="#001000" font-weight="bold" transform="translate(0,0)">WC</text></g>
<clipPath id="c22"><rect x="0" y="360" width="1000" height="4"/></clipPath>
<g clip-path="url(#c22)"><text x="818" y="362" font-size="25" fill="#001000" font-weight="bold" transform="translate(-8,0)">WC</text></g>
<text x="518" y="410" font-size="26" fill="#fffbea" font-weight="bold" text-anchor="start" >H+K+S</text>
<text x="505" y="441" font-size="25.5" fill="#fffbe8" font-weight="bold" text-anchor="start" >84,5 m²</text>
<clipPath id="c23"><rect x="0" y="442.75" width="1000" height="5.25"/></clipPath>
<g clip-path="url(#c23)"><text x="714" y="462" font-size="25" fill="#001000" font-weight="bold" transform="translate(8,0)">KH</text></g>
<clipPath id="c24"><rect x="0" y="448" width="1000" height="8"/></clipPath>
<g clip-path="url(#c24)"><text x="714" y="462" font-size="25" fill="#001000" font-weight="bold" transform="translate(0,0)">KH</text></g>
<clipPath id="c25"><rect x="0" y="456" width="1000" height="8"/></clipPath>
<g clip-path="url(#c25)"><text x="714" y="462" font-size="25" fill="#001000" font-weight="bold" transform="translate(-8,0)">KH</text></g>
<clipPath id="c26"><rect x="0" y="490.75" width="1000" height="5.25"/></clipPath>
<g clip-path="url(#c26)"><text x="276" y="510" font-size="25" fill="#2b0000" font-weight="bold" transform="translate(8,0)">MH</text></g>
<clipPath id="c27"><rect x="0" y="496" width="1000" height="8"/></clipPath>
<g clip-path="url(#c27)"><text x="276" y="510" font-size="25" fill="#2b0000" font-weight="bold" transform="translate(0,0)">MH</text></g>
<clipPath id="c28"><rect x="0" y="504" width="1000" height="8"/></clipPath>
<g clip-path="url(#c28)"><text x="276" y="510" font-size="25" fill="#2b0000" font-weight="bold" transform="translate(-8,0)">MH</text></g>
<text x="771" y="510" font-size="25" fill="#b8bcbc" font-weight="bold" text-anchor="start" >MH</text>
<clipPath id="c29"><rect x="0" y="616.75" width="1000" height="7.25"/></clipPath>
<g clip-path="url(#c29)"><text x="545" y="636" font-size="25" fill="#2b0000" font-weight="bold" transform="translate(8,0) rotate(180 564 626.5)">HT</text></g>
<clipPath id="c30"><rect x="0" y="624" width="1000" height="8"/></clipPath>
<g clip-path="url(#c30)"><text x="545" y="636" font-size="25" fill="#2b0000" font-weight="bold" transform="translate(0,0) rotate(180 564 626.5)">HT</text></g>
<clipPath id="c31"><rect x="0" y="632" width="1000" height="6"/></clipPath>
<g clip-path="url(#c31)"><text x="545" y="636" font-size="25" fill="#2b0000" font-weight="bold" transform="translate(-8,0) rotate(180 564 626.5)">HT</text></g>
<text x="172" y="640" font-size="22" fill="#dcd0cc" font-weight="bold" text-anchor="start" >LH</text>
<clipPath id="c32"><rect x="0" y="723.48" width="1000" height="4.52"/></clipPath>
<g clip-path="url(#c32)"><text x="884" y="742" font-size="24" fill="#000" font-weight="bold" transform="translate(8,0)">PARVEKE</text></g>
<clipPath id="c33"><rect x="0" y="728" width="1000" height="8"/></clipPath>
<g clip-path="url(#c33)"><text x="884" y="742" font-size="24" fill="#000" font-weight="bold" transform="translate(0,0)">PARVEKE</text></g>
<clipPath id="c34"><rect x="0" y="736" width="1000" height="8"/></clipPath>
<g clip-path="url(#c34)"><text x="884" y="742" font-size="24" fill="#000" font-weight="bold" transform="translate(-8,0)">PARVEKE</text></g>
<text x="339" y="127" font-size="9" fill="#000" font-weight="bold" text-anchor="start" >PSK</text>
<text x="332" y="137" font-size="9" fill="#000" font-weight="bold" text-anchor="start" >VAR</text>
<text x="156" y="271.5" font-size="8" fill="#001000" font-weight="bold" text-anchor="start" >APK</text>
<text x="197" y="272" font-size="10.5" fill="#001000" font-weight="bold" text-anchor="start" >JK</text>
<text x="181" y="286" font-size="10.5" fill="#001000" font-weight="bold" text-anchor="start" >PK</text>
<text x="140" y="284" font-size="7" fill="#001000" font-weight="bold" text-anchor="start" >VAR</text>
<path d="M183,162 a4,6 0 0 0 8,0 a4,6 0 0 1 8,0 a4,6 0 0 0 8,0 a4,6 0 0 1 8,0" stroke="#001000" stroke-width="1.6" fill="none" shape-rendering="geometricPrecision"/>
<path d="M183,162 v-3 M199,166 v-8 M215,162 v3" stroke="#001000" stroke-width="1.4" fill="none" />
<path d="M172,176 a4,6 0 0 0 8,0 a4,6 0 0 1 8,0 a4,6 0 0 0 8,0 a4,6 0 0 1 8,0" stroke="#001000" stroke-width="1.6" fill="none" shape-rendering="geometricPrecision"/>
<path d="M172,176 v-3 M188,180 v-8 M204,176 v3" stroke="#001000" stroke-width="1.4" fill="none" />
<rect x="145" y="187" width="47" height="1.5" fill="#001000"/>
<rect x="185" y="147" width="1.5" height="6" fill="#001000"/>
<path d="M128,214 h24 v4" stroke="#000" stroke-width="1.5" fill="none" />
<path d="M104,228 q0,4 4,4 h18 q4,0 4,-4" stroke="#000" stroke-width="1.5" fill="none" shape-rendering="geometricPrecision"/>
<line x1="117" y1="223" x2="117" y2="240" stroke="#000" stroke-width="1.2"/>
<path d="M95,250 v-5 q0,-3 3,-3 h20 q3,0 3,3 v5" stroke="#000" stroke-width="1.5" fill="none" shape-rendering="geometricPrecision"/>
<path d="M87,248 v4 q0,3 3,3 h21 q3,0 3,-3 v-4" stroke="#000" stroke-width="1.5" fill="none" shape-rendering="geometricPrecision"/>
<line x1="104" y1="274.5" x2="176" y2="274.5" stroke="#000" stroke-width="1.2"/>
<rect x="121" y="256" width="1.5" height="7" fill="#001000"/>
<rect x="113" y="264" width="1.5" height="7" fill="#001000"/>
<rect x="105" y="272" width="1.5" height="7" fill="#001000"/>
<rect x="97" y="280" width="1.5" height="7" fill="#001000"/>
<rect x="89" y="288" width="1.5" height="7" fill="#001000"/>
<rect x="193" y="256" width="1.5" height="7" fill="#001000"/>
<rect x="185" y="264" width="1.5" height="7" fill="#001000"/>
<rect x="177" y="272" width="1.5" height="7" fill="#001000"/>
<rect x="169" y="280" width="1.5" height="7" fill="#001000"/>
<rect x="161" y="288" width="1.5" height="7" fill="#001000"/>
<rect x="201" y="256" width="1.5" height="7" fill="#001000"/>
<rect x="193" y="264" width="1.5" height="7" fill="#001000"/>
<rect x="185" y="272" width="1.5" height="7" fill="#001000"/>
<rect x="177" y="280" width="1.5" height="7" fill="#001000"/>
<rect x="169" y="288" width="1.5" height="7" fill="#001000"/>
<rect x="89" y="256" width="1.5" height="7" fill="#000"/>
<rect x="81" y="264" width="1.5" height="7" fill="#000"/>
<rect x="73" y="272" width="1.5" height="7" fill="#000"/>
<rect x="65" y="280" width="1.5" height="7" fill="#000"/>
<rect x="57" y="288" width="1.5" height="7" fill="#000"/>
<rect x="129" y="232" width="1.5" height="7" fill="#000"/>
<rect x="121" y="240" width="1.5" height="7" fill="#000"/>
<rect x="113" y="248" width="1.5" height="7" fill="#000"/>
<rect x="105" y="256" width="1.5" height="7" fill="#000"/>
<rect x="97" y="264" width="1.5" height="7" fill="#000"/>
<rect x="89" y="272" width="1.5" height="7" fill="#000"/>
<rect x="81" y="280" width="1.5" height="7" fill="#000"/>
<rect x="73" y="288" width="1.5" height="7" fill="#000"/>
<rect x="65" y="240" width="2" height="8" fill="#000"/>
<rect x="57" y="248" width="2" height="8" fill="#000"/>
<rect x="49" y="256" width="2" height="8" fill="#000"/>
<rect x="41" y="264" width="2" height="8" fill="#000"/>
<rect x="33" y="272" width="2" height="8" fill="#000"/>
<rect x="25" y="280" width="2" height="8" fill="#000"/>
<rect x="17" y="288" width="2" height="8" fill="#000"/>
<rect x="344" y="104" width="1.5" height="7" fill="#000"/>
<rect x="336" y="112" width="1.5" height="7" fill="#000"/>
<rect x="328" y="120" width="1.5" height="7" fill="#000"/>
<rect x="320" y="128" width="1.5" height="7" fill="#000"/>
<rect x="312" y="136" width="1.5" height="7" fill="#000"/>
<rect x="304" y="144" width="1.5" height="7" fill="#000"/>
<rect x="384" y="104" width="1.5" height="7" fill="#000"/>
<rect x="376" y="112" width="1.5" height="7" fill="#000"/>
<rect x="368" y="120" width="1.5" height="7" fill="#000"/>
<rect x="360" y="128" width="1.5" height="7" fill="#000"/>
<rect x="352" y="136" width="1.5" height="7" fill="#000"/>
<rect x="344" y="144" width="1.5" height="7" fill="#000"/>
<path d="M70,247 A73,73 0 0 0 0,276" stroke="#000" stroke-width="2" fill="none" stroke-dasharray="14 7" shape-rendering="geometricPrecision"/>
<line x1="222" y1="131.5" x2="322" y2="131.5" stroke="#001000" stroke-width="1.5" stroke-dasharray="9 3"/>
<line x1="322" y1="149" x2="372" y2="120" stroke="#bbb" stroke-width="1.5" stroke-dasharray="6 3"/>
<line x1="122" y1="296" x2="185" y2="258" stroke="#bbb" stroke-width="1.5" stroke-dasharray="6 3"/>
<line x1="165" y1="296" x2="232" y2="256" stroke="#bbb" stroke-width="1.5" stroke-dasharray="6 3"/>
<rect x="193" y="294" width="182" height="8" fill="#b4b4b4"/>
<rect x="20" y="294" width="173" height="8" fill="#000"/>
<path d="M362,327 q14,2 24,9" stroke="#2b0000" stroke-width="1.6" fill="none" shape-rendering="geometricPrecision"/>
<path d="M376,337 q7,4 12,10" stroke="#2b0000" stroke-width="2" fill="none" shape-rendering="geometricPrecision"/>
<path d="M378,348 q5,5 8,9" stroke="#2b0000" stroke-width="2" fill="none" shape-rendering="geometricPrecision"/>
<path d="M376,359 q3,5 5,9" stroke="#2b0000" stroke-width="2" fill="none" shape-rendering="geometricPrecision"/>
<path d="M372,370 q2,4 3,8" stroke="#2b0000" stroke-width="2" fill="none" shape-rendering="geometricPrecision"/>
<path d="M922,326 q14,2 24,9" stroke="#000" stroke-width="1.6" fill="none" shape-rendering="geometricPrecision"/>
<path d="M936,336 q7,4 12,10" stroke="#000" stroke-width="2" fill="none" shape-rendering="geometricPrecision"/>
<path d="M938,347 q5,5 8,9" stroke="#000" stroke-width="2" fill="none" shape-rendering="geometricPrecision"/>
<path d="M936,358 q3,5 5,9" stroke="#000" stroke-width="2" fill="none" shape-rendering="geometricPrecision"/>
<path d="M932,369 q2,4 3,8" stroke="#000" stroke-width="2" fill="none" shape-rendering="geometricPrecision"/>
<path d="M811,432 q15.4,2 26.4,9" stroke="#001000" stroke-width="1.6" fill="none" shape-rendering="geometricPrecision"/>
<path d="M826.4,442 q7.7,4 13.2,10" stroke="#001000" stroke-width="2" fill="none" shape-rendering="geometricPrecision"/>
<path d="M828.6,453 q5.5,5 8.8,9" stroke="#001000" stroke-width="2" fill="none" shape-rendering="geometricPrecision"/>
<path d="M826.4,464 q3.3,5 5.5,9" stroke="#001000" stroke-width="2" fill="none" shape-rendering="geometricPrecision"/>
<path d="M822,475 q2.2,4 3.3,8" stroke="#001000" stroke-width="2" fill="none" shape-rendering="geometricPrecision"/>
<path d="M657,592 q18.9,2 32.4,9" stroke="#100800" stroke-width="1.6" fill="none" shape-rendering="geometricPrecision"/>
<path d="M675.9,602 q9.45,4 16.2,10" stroke="#100800" stroke-width="2" fill="none" shape-rendering="geometricPrecision"/>
<path d="M678.6,613 q6.75,5 10.8,9" stroke="#100800" stroke-width="2" fill="none" shape-rendering="geometricPrecision"/>
<path d="M675.9,624 q4.05,5 6.75,9" stroke="#100800" stroke-width="2" fill="none" shape-rendering="geometricPrecision"/>
<path d="M670.5,635 q2.7,4 4.05,8" stroke="#100800" stroke-width="2" fill="none" shape-rendering="geometricPrecision"/>
<path d="M663.75,646 q1.35,4 2.7,8" stroke="#100800" stroke-width="1.6" fill="none" shape-rendering="geometricPrecision"/>
<path d="M243,335 A47,47 0 0 1 290,381 H243" stroke=" #d6bfae" stroke-width="2" fill="none" shape-rendering="geometricPrecision"/>
<path d="M243,432 A50,50 0 0 1 283,500" stroke=" #ecc9ae" stroke-width="2" fill="none" shape-rendering="geometricPrecision"/>
<path d="M250,576 H283" stroke="#ecd2c0" stroke-width="2" fill="none" shape-rendering="geometricPrecision"/>
<path d="M296,590 A60,60 0 0 1 318,659" stroke="#fffaf0" stroke-width="2" fill="none" shape-rendering="geometricPrecision"/>
<path d="M262,292 A46,46 0 0 1 308,247 V292" stroke="#bccbb0" stroke-width="2" fill="none" shape-rendering="geometricPrecision"/>
<path d="M684,326 A45,45 0 0 1 722,352 M684,374 H708" stroke="#fbfff2" stroke-width="2" fill="none" shape-rendering="geometricPrecision"/>
<rect x="332" y="392" width="1.5" height="6" fill="#2b0000"/>
<rect x="324" y="400" width="1.5" height="6" fill="#2b0000"/>
<rect x="316" y="408" width="1.5" height="6" fill="#2b0000"/>
<rect x="308" y="416" width="1.5" height="6" fill="#2b0000"/>
<rect x="348" y="392" width="1.5" height="6" fill="#2b0000"/>
<rect x="340" y="400" width="1.5" height="6" fill="#2b0000"/>
<rect x="332" y="408" width="1.5" height="6" fill="#2b0000"/>
<rect x="324" y="416" width="1.5" height="6" fill="#2b0000"/>
<rect x="364" y="392" width="1.5" height="6" fill="#2b0000"/>
<rect x="356" y="400" width="1.5" height="6" fill="#2b0000"/>
<rect x="348" y="408" width="1.5" height="6" fill="#2b0000"/>
<rect x="340" y="416" width="1.5" height="6" fill="#2b0000"/>
<rect x="420" y="392" width="1.5" height="6" fill="#2b0000"/>
<rect x="412" y="400" width="1.5" height="6" fill="#2b0000"/>
<rect x="404" y="408" width="1.5" height="6" fill="#2b0000"/>
<rect x="396" y="416" width="1.5" height="6" fill="#2b0000"/>
<rect x="436" y="392" width="1.5" height="6" fill="#2b0000"/>
<rect x="428" y="400" width="1.5" height="6" fill="#2b0000"/>
<rect x="420" y="408" width="1.5" height="6" fill="#2b0000"/>
<rect x="412" y="416" width="1.5" height="6" fill="#2b0000"/>
<rect x="452" y="392" width="1.5" height="6" fill="#2b0000"/>
<rect x="444" y="400" width="1.5" height="6" fill="#2b0000"/>
<rect x="436" y="408" width="1.5" height="6" fill="#2b0000"/>
<rect x="428" y="416" width="1.5" height="6" fill="#2b0000"/>
<rect x="468" y="392" width="1.5" height="6" fill="#2b0000"/>
<rect x="460" y="400" width="1.5" height="6" fill="#2b0000"/>
<rect x="452" y="408" width="1.5" height="6" fill="#2b0000"/>
<rect x="444" y="416" width="1.5" height="6" fill="#2b0000"/>
<rect x="484" y="392" width="1.5" height="6" fill="#2b0000"/>
<rect x="476" y="400" width="1.5" height="6" fill="#2b0000"/>
<rect x="468" y="408" width="1.5" height="6" fill="#2b0000"/>
<rect x="460" y="416" width="1.5" height="6" fill="#2b0000"/>
<clipPath id="kb"><rect x="636" y="433" width="70" height="26" rx="6"/></clipPath>
<g clip-path="url(#kb)">
<rect x="664" y="432" width="10" height="8" fill="#ffe9c4"/>
<rect x="656" y="440" width="18" height="8" fill="#ffe9c4"/>
<rect x="648" y="448" width="26" height="8" fill="#ffe9c4"/>
<rect x="640" y="456" width="34" height="4" fill="#ffe9c4"/>
<rect x="674" y="432" width="9" height="8" fill="#fff"/>
<rect x="674" y="440" width="9" height="8" fill="#fff"/>
<rect x="674" y="448" width="9" height="8" fill="#fff"/>
<rect x="674" y="456" width="9" height="4" fill="#fff"/>
<rect x="683" y="432" width="37" height="8" fill="#f3ffe0"/>
<rect x="683" y="440" width="37" height="8" fill="#f3ffe0"/>
<rect x="683" y="448" width="31" height="8" fill="#f3ffe0"/>
<rect x="683" y="456" width="23" height="4" fill="#f3ffe0"/>
</g>
<path d="M664,433 H700 q6,0 6,6 M706,453 q0,6 -6,6 H648" stroke="#000" stroke-width="2" fill="none" shape-rendering="geometricPrecision"/>
<path d="M652,458 q12,-6 14,-24 M690,458 l6,-24" stroke="#000" stroke-width="1.6" fill="none" stroke-dasharray="7 4" shape-rendering="geometricPrecision"/>
<clipPath id="wb"><rect x="730" y="333" width="80" height="27" rx="6"/></clipPath>
<g clip-path="url(#wb)">
<rect x="768" y="332" width="40" height="4" fill="#f3ffe0"/>
<rect x="760" y="336" width="40" height="8" fill="#f3ffe0"/>
<rect x="752" y="344" width="40" height="8" fill="#f3ffe0"/>
<rect x="744" y="352" width="40" height="8" fill="#f3ffe0"/>
<rect x="736" y="360" width="40" height="1" fill="#f3ffe0"/>
</g>
<path d="M762,333 H804 q6,0 6,6 M810,354 q0,6 -6,6 H746" stroke="#001000" stroke-width="2" fill="none" shape-rendering="geometricPrecision"/>
<path d="M756,358 q10,-6 12,-22 M792,358 l6,-24" stroke="#001000" stroke-width="1.6" fill="none" stroke-dasharray="7 4" shape-rendering="geometricPrecision"/>
<line x1="631" y1="465.5" x2="698" y2="465.5" stroke="#2b0000" stroke-width="1.2" stroke-dasharray="10 3 2 3"/>
<ellipse cx="864" cy="311" rx="20" ry="11" fill="#f3ffe0" stroke="#001000" stroke-width="2" shape-rendering="geometricPrecision"/>
<path d="M838,316 q24,18 50,-2" stroke="#001000" stroke-width="2" fill="none" shape-rendering="geometricPrecision"/>
<rect x="870" y="300" width="5" height="8" fill="#f3ffe0"/>
<path d="M870,300 v8 h5 v-8" stroke="#001000" stroke-width="1.5" fill="none" />
<circle cx="881" cy="297" r="3" fill="#f3ffe0" stroke="#001000" stroke-width="1.5" shape-rendering="geometricPrecision"/>
<rect x="860" y="295" width="30" height="6" fill="#fff"/>
<ellipse cx="755" cy="404" rx="23" ry="13" fill="#fff" stroke="#000" stroke-width="2" shape-rendering="geometricPrecision"/>
<path d="M728,412 q26,16 50,-4" stroke="#000" stroke-width="2" fill="none" shape-rendering="geometricPrecision"/>
<path d="M759,398 v-6 h8 M767,390 q8,-6 14,2" stroke="#000" stroke-width="1.5" fill="none" shape-rendering="geometricPrecision"/>
<rect x="803" y="393" width="34" height="30" fill="#ececec" stroke="#000" stroke-width="1.5" stroke-dasharray="5 3"/>
<line x1="806" y1="420" x2="834" y2="398" stroke="#000" stroke-width="1.6" stroke-dasharray="7 3"/>
<line x1="874" y1="373" x2="922" y2="373" stroke="#000" stroke-width="2"/>
<line x1="921" y1="368" x2="921" y2="374" stroke="#000" stroke-width="2"/>
<line x1="897" y1="425" x2="942" y2="425" stroke="#000" stroke-width="2"/>
<line x1="866" y1="459" x2="911" y2="459" stroke="#000" stroke-width="2"/>
<line x1="897" y1="421" x2="897" y2="428" stroke="#000" stroke-width="1.5"/>
<line x1="866" y1="455" x2="866" y2="463" stroke="#000" stroke-width="1.5"/>
<line x1="761" y1="486" x2="810" y2="486" stroke="#001000" stroke-width="2"/>
<rect x="808" y="480" width="1.5" height="7" fill="#001000"/>
<rect x="761" y="482" width="1.5" height="8" fill="#001000"/>
<rect x="810" y="428" width="8" height="4" fill="#b0c59c"/>
<rect x="810" y="428" width="1.5" height="4" fill="#001000"/>
<rect x="816.5" y="428" width="1.5" height="4" fill="#001000"/>
<rect x="802" y="432" width="8" height="8" fill="#b0c59c"/>
<rect x="802" y="432" width="1.5" height="8" fill="#001000"/>
<rect x="808.5" y="432" width="1.5" height="8" fill="#001000"/>
<rect x="794" y="440" width="8" height="8" fill="#b0c59c"/>
<rect x="794" y="440" width="1.5" height="8" fill="#001000"/>
<rect x="800.5" y="440" width="1.5" height="8" fill="#001000"/>
<rect x="786" y="448" width="8" height="8" fill="#b0c59c"/>
<rect x="786" y="448" width="1.5" height="8" fill="#001000"/>
<rect x="792.5" y="448" width="1.5" height="8" fill="#001000"/>
<rect x="778" y="456" width="8" height="8" fill="#b0c59c"/>
<rect x="778" y="456" width="1.5" height="8" fill="#001000"/>
<rect x="784.5" y="456" width="1.5" height="8" fill="#001000"/>
<rect x="770" y="464" width="8" height="8" fill="#b0c59c"/>
<rect x="770" y="464" width="1.5" height="8" fill="#001000"/>
<rect x="776.5" y="464" width="1.5" height="8" fill="#001000"/>
<rect x="762" y="472" width="8" height="8" fill="#b0c59c"/>
<rect x="762" y="472" width="1.5" height="8" fill="#001000"/>
<rect x="768.5" y="472" width="1.5" height="8" fill="#001000"/>
<rect x="754" y="480" width="8" height="8" fill="#b0c59c"/>
<rect x="754" y="480" width="1.5" height="8" fill="#001000"/>
<rect x="760.5" y="480" width="1.5" height="8" fill="#001000"/>
<rect x="746" y="488" width="8" height="8" fill="#b0c59c"/>
<rect x="746" y="488" width="1.5" height="8" fill="#001000"/>
<rect x="752.5" y="488" width="1.5" height="8" fill="#001000"/>
<rect x="704" y="378" width="64" height="6" fill="#000"/>
<rect x="696" y="384" width="64" height="8" fill="#000"/>
<rect x="688" y="392" width="64" height="8" fill="#000"/>
<rect x="680" y="400" width="64" height="8" fill="#000"/>
<rect x="674" y="408" width="62" height="8" fill="#000"/>
<rect x="674" y="416" width="54" height="4" fill="#000"/>
<rect x="720" y="378" width="142" height="10" fill="#000"/>
<rect x="704" y="376" width="16" height="8" fill="#001000"/>
<rect x="696" y="384" width="16" height="8" fill="#001000"/>
<rect x="688" y="392" width="16" height="8" fill="#001000"/>
<rect x="586" y="664" width="1.5" height="7" fill="#000"/>
<rect x="578" y="672" width="1.5" height="7" fill="#000"/>
<rect x="570" y="680" width="1.5" height="7" fill="#000"/>
<rect x="562" y="688" width="1.5" height="7" fill="#000"/>
<rect x="554" y="696" width="1.5" height="7" fill="#000"/>
<rect x="546" y="704" width="1.5" height="7" fill="#000"/>
<rect x="538" y="712" width="1.5" height="7" fill="#000"/>
<rect x="530" y="720" width="1.5" height="7" fill="#000"/>
<path d="M529,724 v4 Q590,728 650,668" stroke="#000" stroke-width="1.6" fill="none" stroke-dasharray="9 5" shape-rendering="geometricPrecision"/>
<path d="M746,479 Q700,484 668,522" stroke="#001000" stroke-width="1.6" fill="none" stroke-dasharray="9 5" shape-rendering="geometricPrecision"/>
<path d="M612,494 q2,8 8,6 q6,-3 2,-10 M622,488 l6,12 M630,492 l6,8" stroke="#2b0000" stroke-width="1.5" fill="none" shape-rendering="geometricPrecision"/>
<path d="M924,598 Q850,600 806,655" stroke="#000" stroke-width="1.8" fill="none" stroke-dasharray="10 6" shape-rendering="geometricPrecision"/>
<path d="M924,598 Q900,597 886,603" stroke="#000" stroke-width="2" fill="none" shape-rendering="geometricPrecision"/>
<rect x="914" y="600" width="2" height="7" fill="#000"/>
<rect x="906" y="608" width="2" height="7" fill="#000"/>
<rect x="898" y="616" width="2" height="7" fill="#000"/>
<rect x="890" y="624" width="2" height="7" fill="#000"/>
<rect x="882" y="632" width="2" height="7" fill="#000"/>
<rect x="874" y="640" width="2" height="7" fill="#000"/>
<rect x="866" y="648" width="2" height="7" fill="#000"/>
<rect x="858" y="656" width="2" height="7" fill="#000"/>
<rect x="850" y="664" width="2" height="7" fill="#000"/>
<path d="M854,668 Q815,712 752,725" stroke="#000" stroke-width="1.6" fill="none" stroke-dasharray="9 6" shape-rendering="geometricPrecision"/>
<path d="M752,725 q-14,3 -17,-4" stroke="#000" stroke-width="1.6" fill="none" shape-rendering="geometricPrecision"/>
<line x1="970" y1="133.5" x2="1000" y2="133.5" stroke="#000" stroke-width="2"/>
<line x1="936" y1="167.5" x2="983" y2="167.5" stroke="#000" stroke-width="2"/>
<line x1="904" y1="199.5" x2="951" y2="199.5" stroke="#000" stroke-width="2"/>
<rect x="982" y="160" width="1.5" height="8" fill="#000"/>
<rect x="950" y="192" width="1.5" height="8" fill="#000"/>
<rect x="1007" y="136" width="1.3" height="6" fill="#000"/>
<rect x="999" y="144" width="1.3" height="6" fill="#000"/>
<rect x="991" y="152" width="1.3" height="6" fill="#000"/>
<rect x="983" y="160" width="1.3" height="6" fill="#000"/>
<rect x="975" y="168" width="1.3" height="6" fill="#000"/>
<rect x="967" y="176" width="1.3" height="6" fill="#000"/>
<rect x="959" y="184" width="1.3" height="6" fill="#000"/>
<rect x="951" y="192" width="1.3" height="6" fill="#000"/>
<rect x="943" y="200" width="1.3" height="6" fill="#000"/>
<rect x="935" y="208" width="1.3" height="6" fill="#000"/>
<rect x="927" y="216" width="1.3" height="6" fill="#000"/>
<rect x="919" y="224" width="1.3" height="6" fill="#000"/>
<rect x="911" y="232" width="1.3" height="6" fill="#000"/>
<rect x="903" y="240" width="1.3" height="6" fill="#000"/>
<rect x="895" y="248" width="1.3" height="6" fill="#000"/>
<rect x="887" y="256" width="1.3" height="6" fill="#000"/>
<line x1="818" y1="286" x2="934" y2="207" stroke="#000" stroke-width="1.6" stroke-dasharray="7 9"/>
<line x1="955" y1="282" x2="1000" y2="252" stroke="#000" stroke-width="1.6" stroke-dasharray="7 9"/>
<rect x="981" y="279" width="1.5" height="7" fill="#000"/>
<rect x="10" y="661" width="8" height="12" fill="#000"/>
<rect x="29" y="663" width="1.5" height="9" fill="#000"/>
<rect x="62" y="663" width="1.5" height="9" fill="#000"/>
<rect x="75" y="663" width="1.5" height="9" fill="#000"/>
<rect x="64" y="667" width="11" height="1.5" fill="#fff"/>
<rect x="681" y="568" width="2" height="8" fill="#2b0000"/>
<rect x="673" y="576" width="2" height="8" fill="#2b0000"/>
<rect x="665" y="584" width="2" height="8" fill="#2b0000"/>
<rect x="657" y="592" width="2" height="8" fill="#2b0000"/>
<rect x="649" y="600" width="2" height="8" fill="#2b0000"/>
<rect x="641" y="608" width="2" height="8" fill="#2b0000"/>
<rect x="633" y="616" width="2" height="8" fill="#2b0000"/>
<rect x="625" y="624" width="2" height="8" fill="#2b0000"/>
<rect x="617" y="632" width="2" height="8" fill="#2b0000"/>
<rect x="609" y="640" width="2" height="8" fill="#2b0000"/>
<rect x="601" y="648" width="2" height="8" fill="#2b0000"/>
<rect x="590" y="651" width="84" height="2.5" fill="#2b0000"/>
<rect x="936" y="392" width="1.4" height="6" fill="#001000"/>
<rect x="928" y="400" width="1.4" height="6" fill="#001000"/>
<rect x="920" y="408" width="1.4" height="6" fill="#001000"/>
<rect x="912" y="416" width="1.4" height="6" fill="#001000"/>
<rect x="904" y="424" width="1.4" height="6" fill="#001000"/>
<rect x="896" y="432" width="1.4" height="6" fill="#001000"/>
<rect x="888" y="440" width="1.4" height="6" fill="#001000"/>
<rect x="880" y="448" width="1.4" height="6" fill="#001000"/>
<rect x="872" y="456" width="1.4" height="6" fill="#001000"/>
<rect x="864" y="464" width="1.4" height="6" fill="#001000"/>
<rect x="856" y="472" width="1.4" height="6" fill="#001000"/>
<rect x="848" y="480" width="1.4" height="6" fill="#001000"/>
<rect x="840" y="488" width="1.4" height="6" fill="#001000"/>
<rect x="832" y="496" width="1.4" height="6" fill="#001000"/>
<rect x="824" y="504" width="1.4" height="6" fill="#001000"/>
<rect x="816" y="512" width="1.4" height="6" fill="#001000"/>
<rect x="808" y="520" width="1.4" height="6" fill="#001000"/>
<rect x="800" y="528" width="1.4" height="6" fill="#001000"/>
<rect x="792" y="536" width="1.4" height="6" fill="#001000"/>
<rect x="784" y="544" width="1.4" height="6" fill="#001000"/>
<rect x="904" y="449" width="1.4" height="6" fill="#001000"/>
<rect x="896" y="457" width="1.4" height="6" fill="#001000"/>
<rect x="888" y="465" width="1.4" height="6" fill="#001000"/>
<rect x="880" y="473" width="1.4" height="6" fill="#001000"/>
<rect x="872" y="481" width="1.4" height="6" fill="#001000"/>
<rect x="864" y="489" width="1.4" height="6" fill="#001000"/>
<rect x="856" y="497" width="1.4" height="6" fill="#001000"/>
<rect x="848" y="505" width="1.4" height="6" fill="#001000"/>
<rect x="840" y="513" width="1.4" height="6" fill="#001000"/>
<rect x="832" y="521" width="1.4" height="6" fill="#001000"/>
<rect x="824" y="529" width="1.4" height="6" fill="#001000"/>
<rect x="816" y="537" width="1.4" height="6" fill="#001000"/>
<rect x="808" y="545" width="1.4" height="6" fill="#001000"/>
<clipPath id="c4"><rect x="508" y="394" width="9" height="11"/></clipPath>
<g clip-path="url(#c4)"><text x="503" y="410" font-size="26" font-weight="bold" fill="#000">4</text></g>
<rect x="160" y="534" width="20" height="2" fill="#d3d6de"/>
<rect x="152" y="536" width="28" height="8" fill="#d3d6de"/>
<rect x="144" y="544" width="36" height="6" fill="#d3d6de"/>
<rect x="738" y="485" width="1.5" height="10" fill="#001000"/>
<rect x="730" y="493" width="1.5" height="10" fill="#001000"/>
<rect x="722" y="501" width="1.5" height="10" fill="#001000"/>
<rect x="714" y="509" width="1.5" height="10" fill="#001000"/>
<rect x="706" y="517" width="1.5" height="10" fill="#001000"/>
<rect x="698" y="525" width="1.5" height="10" fill="#001000"/>
<rect x="668" y="576" width="6" height="8" fill="#e1af87"/>
<rect x="660" y="584" width="14" height="8" fill="#e1af87"/>
<rect x="652" y="592" width="22" height="8" fill="#e1af87"/>
<rect x="644" y="600" width="30" height="8" fill="#e1af87"/>
<rect x="636" y="608" width="38" height="8" fill="#e1af87"/>
<rect x="628" y="616" width="46" height="8" fill="#e1af87"/>
<rect x="620" y="624" width="54" height="8" fill="#e1af87"/>
<rect x="612" y="632" width="62" height="8" fill="#e1af87"/>
<rect x="604" y="640" width="70" height="8" fill="#e1af87"/>
<rect x="596" y="648" width="78" height="4" fill="#e1af87"/>
<path d="M515,645 V608 H503 Q484,610 476,622" stroke="#f1dfd2" stroke-width="2" fill="none" shape-rendering="geometricPrecision"/>
<path d="M520,645 V610" stroke="#fde4cb" stroke-width="2" fill="none" />
<path d="M582,549 L560,556 L572,557 L550,564" stroke="#3a1c00" stroke-width="1.6" fill="none" shape-rendering="geometricPrecision"/>
<rect x="681" y="568" width="2" height="8" fill="#2b0000"/>
<rect x="673" y="576" width="2" height="8" fill="#2b0000"/>
<rect x="665" y="584" width="2" height="8" fill="#2b0000"/>
<rect x="657" y="592" width="2" height="8" fill="#2b0000"/>
<rect x="649" y="600" width="2" height="8" fill="#2b0000"/>
<rect x="641" y="608" width="2" height="8" fill="#2b0000"/>
<rect x="633" y="616" width="2" height="8" fill="#2b0000"/>
<rect x="625" y="624" width="2" height="8" fill="#2b0000"/>
<rect x="617" y="632" width="2" height="8" fill="#2b0000"/>
<rect x="609" y="640" width="2" height="8" fill="#2b0000"/>
<rect x="601" y="648" width="2" height="8" fill="#2b0000"/>
<path d="M657,592 q18.9,2 32.4,9" stroke="#100800" stroke-width="1.6" fill="none" shape-rendering="geometricPrecision"/>
<path d="M675.9,602 q9.45,4 16.2,10" stroke="#100800" stroke-width="2" fill="none" shape-rendering="geometricPrecision"/>
<path d="M678.6,613 q6.75,5 10.8,9" stroke="#100800" stroke-width="2" fill="none" shape-rendering="geometricPrecision"/>
<path d="M675.9,624 q4.05,5 6.75,9" stroke="#100800" stroke-width="2" fill="none" shape-rendering="geometricPrecision"/>
<path d="M670.5,635 q2.7,4 4.05,8" stroke="#100800" stroke-width="2" fill="none" shape-rendering="geometricPrecision"/>
<path d="M663.75,646 q1.35,4 2.7,8" stroke="#100800" stroke-width="1.6" fill="none" shape-rendering="geometricPrecision"/>
<rect x="590" y="651" width="84" height="2.5" fill="#2b0000"/>
</svg>
</body></html>
